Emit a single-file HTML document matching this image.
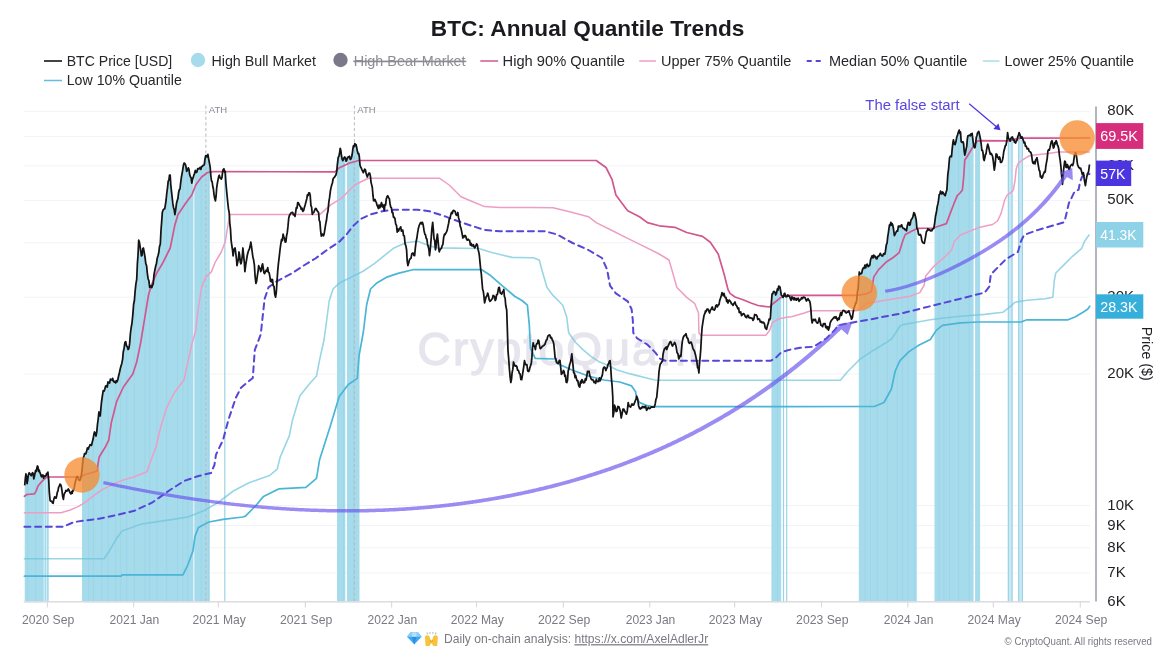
<!DOCTYPE html>
<html lang="en"><head><meta charset="utf-8"><title>BTC: Annual Quantile Trends</title>
<style>html,body{margin:0;padding:0;background:#fff;overflow:hidden}svg{display:block}</style></head>
<body>
<svg width="1170" height="661" viewBox="0 0 1170 661" font-family="'Liberation Sans', Arial, sans-serif">
<defs><filter id="gs" filterUnits="userSpaceOnUse" x="0" y="0" width="1170" height="661" color-interpolation-filters="sRGB"><feOffset dx="0" dy="0"/></filter></defs>
<rect width="1170" height="661" fill="#fff"/>
<g filter="url(#gs)">
<g stroke="#f3f3f5" stroke-width="1">
<line x1="23.7" x2="1090.0" y1="111.3" y2="111.3"/>
<line x1="23.7" x2="1090.0" y1="136.6" y2="136.6"/>
<line x1="23.7" x2="1090.0" y1="165.8" y2="165.8"/>
<line x1="23.7" x2="1090.0" y1="200.4" y2="200.4"/>
<line x1="23.7" x2="1090.0" y1="242.7" y2="242.7"/>
<line x1="23.7" x2="1090.0" y1="297.2" y2="297.2"/>
<line x1="23.7" x2="1090.0" y1="374.1" y2="374.1"/>
<line x1="23.7" x2="1090.0" y1="505.5" y2="505.5"/>
<line x1="23.7" x2="1090.0" y1="525.5" y2="525.5"/>
<line x1="23.7" x2="1090.0" y1="547.8" y2="547.8"/>
<line x1="23.7" x2="1090.0" y1="573.1" y2="573.1"/>
</g>
<text x="417.5" y="364.5" font-size="46" fill="#e6e5ee" stroke="#e6e5ee" stroke-width="1.3" textLength="283" lengthAdjust="spacing">CryptoQuant</text>
<g fill="#a6dbeb">
<polygon points="24.7,602.3 24.7,485.3 25.3,478.8 25.9,473.9 26.5,477 27.1,483.6 27.7,480.1 28.3,475.1 29.2,472.7 30.1,473.9 30.7,475 31.3,475.7 32,473.6 32.6,472.7 33.2,473.7 33.8,478.8 34.4,476.1 35,473.3 35.6,470.4 36.2,471.5 36.8,468.5 37.4,466 38,466.8 38.6,471.5 39.2,470 39.8,472.1 40.4,473.6 41,475.7 41.6,476.8 42.2,475.1 42.9,475 43.5,478.1 43.8,477.3 43.8,602.3"/>
<polygon points="44.4,602.3 44.4,476 45.3,476.3 46,475.4 46.5,474 46.5,602.3"/>
<polygon points="47,602.3 47,473.9 47.3,474.6 47.9,472.1 48.7,480 48.7,480.7 48.7,602.3"/>
<polygon points="82,602.3 82,469.9 82.6,464.2 83.2,458.2 84,455.7 84.6,453.6 85.2,453.9 85.8,453.8 86.4,452.1 87.4,447.9 88.3,449.1 88.9,447.2 89.5,446.1 90.1,444.7 90.7,444.8 91.5,445.4 92.5,441.2 93.2,438.6 93.8,434.8 94.5,432 95.2,433.1 96,436 96.8,431.5 97.5,424 98.2,419 98.9,412 99.6,412.8 100.2,416 100.8,409.4 101.5,402 102.3,396.5 103.2,390.7 104,391.2 104.8,389.3 105.6,386 106.4,385.7 107.2,387 108,382 108.8,382.4 109.6,383 110.4,379.2 111.1,379.8 111.9,380 112.6,378.3 113.4,381.3 114.1,382 114.8,381.4 115.6,382.9 116.3,380.7 117,381.8 117.8,379.7 118.6,376 119.4,372.8 120.2,369 121,366.1 121.8,363.4 122.6,359.3 123.3,351.7 124.1,348.2 124.9,342.5 125.7,341.6 126.5,345.8 127.3,346.7 128.1,349.5 128.9,348.4 129.6,343.9 130.4,333.5 131.2,327.5 132,322.8 132.8,314.9 133.6,304.5 134.4,300.5 135.1,291.3 135.9,283.9 136.7,279.5 137.4,263.2 138,255.2 138.7,240.2 139.4,242.1 140.1,246.7 140.8,251.4 141.4,255.9 142.1,255.1 142.8,248.6 143.4,248 144.2,252.2 145,257.2 145.8,263.5 146.6,265.7 147.3,273 148.1,278.7 148.9,280.7 149.7,287.4 150.4,286.5 151.1,285.8 151.8,287.6 152.5,285.4 153.2,283.8 154,274.7 154.8,270.5 155.6,266.5 156.4,263.8 157.2,258.3 158,255.8 158.8,252.5 159.5,246.7 160.3,244.1 161,230.3 161.6,222.6 162.3,212.6 163.1,210 163.9,209 164.7,208.9 165.4,204.8 166.1,200 166.8,193 167.5,187.8 168.2,181.1 168.9,180 169.5,175.1 170.2,175.2 170.8,184.8 171.5,191.3 172.1,196.9 172.8,203.4 173.5,207.4 174.2,209.6 174.9,214.6 175.7,209.5 176.5,203.3 177.2,200.8 177.9,198.6 178.6,192.7 179.3,189.7 180,189 180.7,182.4 181.4,177.2 182.1,173.3 182.8,169.3 183.4,165.3 184.1,163.1 184.7,163.4 185.4,164.4 186,166.8 186.7,171.3 187.5,170.1 188.3,167.9 189,169.3 189.7,174.8 190.4,176.8 191.1,177.8 191.8,183.1 192.5,179.4 193.2,177.4 193.4,176.7 193.4,602.3"/>
<polygon points="194.3,602.3 194.3,173.9 194.6,173.3 195.3,170.4 196.1,172.5 196.9,172 197.7,168.6 198.5,168.6 199.3,168.9 200.1,167.4 200.9,169.3 201.5,166.6 202.2,166.7 202.9,165.3 203.6,165.4 204.3,164.6 205,158.8 205.7,155.7 206.4,155.6 207.1,156.9 207.9,154.4 208.7,159.1 209.5,163.4 209.8,165.2 209.8,602.3"/>
<polygon points="337,602.3 337,168.5 337.4,164.4 338.2,157.4 338.9,156.2 339.5,153.5 340.2,148.3 340.9,150.8 341.5,156 342.2,159.3 342.8,160.6 343.5,159.5 344.1,157.4 344.8,157 345.3,158 345.3,602.3"/>
<polygon points="346.9,602.3 346.9,159.6 347.5,157.4 348.2,157.2 348.9,157.4 349.5,156.2 350.2,159.4 350.8,159.3 351.5,157.5 352.1,154.8 352.8,149.5 353.4,145.9 354.1,146.6 354.8,143.6 355.4,145.6 356.1,144.6 356.7,147.5 357.4,151.3 358,153.7 358.7,153.4 359.3,156.5 359.5,158.6 359.5,602.3"/>
<polygon points="771.4,602.3 771.4,302.5 772.1,293.8 772.8,293.8 773.4,291.8 774,291.4 774.9,292.1 775.7,295 776.6,292.8 777.4,289 778.1,290 778.7,286.1 779.4,286.5 780,287.1 780.7,291.4 781.2,294.4 781.2,602.3"/>
<polygon points="858.8,602.3 858.8,278.3 859.3,272 860.1,273.8 860.9,274 861.7,273.2 862.5,269.5 863.3,267.9 864.1,268.4 864.9,265.2 865.7,267.8 866.5,264.7 867.3,264.1 868.2,266.6 869,266 869.8,265.1 870.6,259.5 871.4,257.5 872.2,255.7 873,257.9 873.8,255.1 874.6,256.8 875.4,256.4 876.2,258.7 877,258.8 877.8,256.3 878.6,256.3 879.5,254.9 880.3,253.3 881.1,255.1 881.9,255.8 882.7,256 883.5,253.8 884.1,253.6 884.8,254.2 885.4,251.4 886.3,244.9 887.1,243 887.7,236.8 888.3,233.3 888.9,228.9 889.5,224.8 890.1,225.6 890.8,222.4 891.4,225.2 892,223.5 892.7,224.8 893.5,229 894.4,235.7 895.2,233.8 896,232.4 896.8,230.8 897.6,231.2 898.4,226.2 899.2,226 900,226.9 900.8,226.2 901.6,224.8 902.5,227.5 903.3,228.4 904.1,228.4 904.9,229.7 905.7,229.3 906.5,230.8 907.3,225.7 908.2,222.4 908.8,222.6 909.5,225.2 910.1,224.8 910.8,220.8 911.4,219.3 912.1,218.7 912.9,216.9 913.8,212.7 914.6,213.4 915.4,216.3 916.2,220.1 916.8,227.3 916.8,602.3"/>
<polygon points="934.5,602.3 934.5,224.3 934.7,223 935.5,216.3 936.4,212.3 937.2,206.6 937.9,203.9 938.5,200.4 939.2,194.5 939.8,194.4 940.5,191.2 941.1,192.1 941.9,194 942.7,192 943.5,193.3 944.4,194.8 945.2,195.7 946.1,192.1 946.9,189.7 947.8,174.9 948.7,167.8 949.5,158 950.2,156.3 950.8,156.1 951.5,156.7 952.1,149.7 952.8,143.5 953.4,139.8 954.3,144 955.1,144.6 955.9,141.8 956.7,137.3 957.5,135 958.4,132.1 959.2,130.1 959.9,133.3 960.5,132.1 961.2,141.8 961.8,142.1 962.4,142.4 963,141.8 963.6,143.6 964.2,150.9 964.8,155.1 965.4,152.8 966.1,149 966.7,146.6 967.3,139.4 967.9,135.8 968.5,135.7 969.1,135.3 969.7,135.1 970.3,135.9 970.9,133.9 971.5,135.1 972.1,133.3 972.7,138.2 973.6,145.4 973.6,145.5 973.6,602.3"/>
<polygon points="975.1,602.3 975.1,147.3 975.1,147.3 975.7,143 976.3,137.2 976.9,135.7 977.5,133 978.2,132.1 978.8,131.4 979.4,133.9 980.1,137.1 980.1,602.3"/>
</g>
<g fill="#cbe9f3">
<polygon points="1007.8,602.3 1007.8,134.2 1008.4,138.2 1009.4,139.4 1010.2,141.2 1010.8,138.8 1011.4,137.5 1012.4,136.9 1012.6,137.6 1012.6,602.3"/>
<polygon points="1018.1,602.3 1018.1,135.8 1018.5,135 1019.1,132.7 1019.9,134.5 1020.5,137 1021.1,138.2 1021.7,136.6 1022.3,137.5 1023,139.5 1023,602.3"/>
</g>
<g stroke="#93d0e5" stroke-width="0.9" opacity="0.55">
<line x1="27.8" x2="27.8" y1="480.7" y2="602.3"/>
<line x1="35.6" x2="35.6" y1="471.4" y2="602.3"/>
<line x1="88.6" x2="88.6" y1="448.9" y2="602.3"/>
<line x1="93.3" x2="93.3" y1="439" y2="602.3"/>
<line x1="101.6" x2="101.6" y1="402.2" y2="602.3"/>
<line x1="108.2" x2="108.2" y1="383.1" y2="602.3"/>
<line x1="115.7" x2="115.7" y1="383.4" y2="602.3"/>
<line x1="120.8" x2="120.8" y1="367.9" y2="602.3"/>
<line x1="126.7" x2="126.7" y1="347.1" y2="602.3"/>
<line x1="134.4" x2="134.4" y1="301" y2="602.3"/>
<line x1="144.9" x2="144.9" y1="257.5" y2="602.3"/>
<line x1="149.6" x2="149.6" y1="287.8" y2="602.3"/>
<line x1="157.1" x2="157.1" y1="260" y2="602.3"/>
<line x1="166.7" x2="166.7" y1="195.2" y2="602.3"/>
<line x1="177.5" x2="177.5" y1="201.1" y2="602.3"/>
<line x1="182.9" x2="182.9" y1="169.7" y2="602.3"/>
<line x1="187.7" x2="187.7" y1="170.3" y2="602.3"/>
<line x1="201.2" x2="201.2" y1="168.9" y2="602.3"/>
<line x1="208.6" x2="208.6" y1="159.2" y2="602.3"/>
<line x1="343.7" x2="343.7" y1="159.8" y2="602.3"/>
<line x1="353.5" x2="353.5" y1="147" y2="602.3"/>
<line x1="777.7" x2="777.7" y1="290.4" y2="602.3"/>
<line x1="864.9" x2="864.9" y1="266.3" y2="602.3"/>
<line x1="870.5" x2="870.5" y1="261" y2="602.3"/>
<line x1="877.3" x2="877.3" y1="258.9" y2="602.3"/>
<line x1="887.3" x2="887.3" y1="242.6" y2="602.3"/>
<line x1="897.1" x2="897.1" y1="232" y2="602.3"/>
<line x1="902.3" x2="902.3" y1="228.1" y2="602.3"/>
<line x1="907.9" x2="907.9" y1="224.6" y2="602.3"/>
<line x1="914.7" x2="914.7" y1="214.6" y2="602.3"/>
<line x1="939" x2="939" y1="196.8" y2="602.3"/>
<line x1="943.9" x2="943.9" y1="195" y2="602.3"/>
<line x1="949.6" x2="949.6" y1="158.7" y2="602.3"/>
<line x1="958.7" x2="958.7" y1="132.3" y2="602.3"/>
<line x1="969" x2="969" y1="136.4" y2="602.3"/>
</g>
<g stroke="#9bd4e7" stroke-width="1.2">
<line x1="224.8" x2="224.8" y1="171.8" y2="602.3"/>
<line x1="783.5" x2="783.5" y1="296.6" y2="602.3"/>
<line x1="786.7" x2="786.7" y1="296.5" y2="602.3"/>
<line x1="1008.4" x2="1008.4" y1="138.1" y2="602.3"/>
<line x1="1012" x2="1012" y1="137.2" y2="602.3"/>
<line x1="1018.7" x2="1018.7" y1="134.1" y2="602.3"/>
<line x1="1022.4" x2="1022.4" y1="137.7" y2="602.3"/>
</g>
<line x1="205.9" x2="205.9" y1="105.5" y2="602.3" stroke="#b9b9c0" stroke-width="1" stroke-dasharray="3.2 2.4"/>
<text x="208.8" y="113.3" font-size="9" fill="#8a8a92" textLength="18.3" lengthAdjust="spacingAndGlyphs">ATH</text>
<line x1="354.4" x2="354.4" y1="105.5" y2="602.3" stroke="#b9b9c0" stroke-width="1" stroke-dasharray="3.2 2.4"/>
<text x="357.29999999999995" y="113.3" font-size="9" fill="#8a8a92" textLength="18.3" lengthAdjust="spacingAndGlyphs">ATH</text>
<polyline points="24.4,576.2 121,576.2 122,574.8 183,574.8 187.8,565 193,550.7 195,536.4 198.4,527.5 209,522 223,519.4 242.7,517 245.4,516.1 256,505.5 263.5,496.4 278.7,488.9 305.9,487.3 316.5,478.3 319.5,460.1 330.1,426.8 339.2,396.6 348.3,384.5 357.3,378.4 359,356 361,345 363.5,331 366.6,305 370.5,289 376.4,283.3 386.2,277.4 398,273.4 413.8,269.5 481.8,269.7 490.9,275.8 503,286.4 515,296.5 522,300.5 527.4,305.2 529.3,325 530.5,348.5 535.2,358.4 555,359 558.9,364.3 572.6,370.2 588.4,376 604,380 619.8,382 631.6,385.9 635.6,391.8 636.4,397.5 639.7,402.6 647.5,405.7 652.6,406.7 874.4,406.5 884,402.5 891.4,389 895.2,371 900,360.7 909,351.6 918.2,345.6 930.3,339.5 936.3,330.4 942.4,325.3 960.5,322.9 978.7,322 1021,322 1027,319.8 1068,319.8 1075.5,316.8 1083,312.3 1087.6,309.3 1089.7,306.2" fill="none" stroke="#4ab5d6" stroke-width="1.7" stroke-linejoin="round" stroke-linecap="round" />
<polyline points="24.4,558.8 104,558.8 109.5,550.7 116.7,538.2 122,531 141.5,524 166.4,520.4 187.8,517 203,511 218.2,502.5 233.3,491 248.4,483 269.6,475.5 277.2,469.2 280.2,457.1 289.3,435.9 292.3,420.8 299.8,396 308.9,384.5 316.5,376 319.5,360.3 324,340 325.8,327 329.2,301 333,289 339,283.3 350.8,277.4 362.6,271.5 374.4,263.6 384.3,255.7 394,247.9 405.9,242.8 417.7,241.2 429.5,245.9 437.4,247.9 478.8,248.5 490.9,252.3 503,255.3 512,257.4 533.3,257.8 539.2,260 543,273.8 547,287.5 553,295.4 562.8,305.2 566.7,317 568.7,332.8 575.4,342.2 583.2,349.9 590.9,356.3 598.6,361.4 607.6,365.3 616.6,369.7 626.9,373 637.2,375.6 647.5,378.2 655.2,380 660,380.2 840.4,380.2 847.7,371.5 859.8,359.4 874.4,349.7 886.5,342.4 891.4,339 895.6,333 900,326 902.9,324.6 915,322.5 930.3,319.8 944,318 960.5,316.2 984.7,314.4 1002.9,312.3 1008.9,307.7 1015,302.3 1027,300.2 1045.2,298.7 1052.8,297.2 1054.3,280.5 1055.8,273 1063.4,265.4 1072.5,256.3 1081.5,248.7 1084.6,241.2 1089,235" fill="none" stroke="#6cc4dc" stroke-width="1.6" stroke-linejoin="round" stroke-linecap="round" stroke-opacity="0.7"/>
<polyline points="24.4,526.8 63.3,526.8 74,522 99,518.7 116.7,515 134.4,510.8 152,502.7 170,490 184,481 198.4,476 211,473 214.4,465 216,454.7 223,440 228.7,419 235.8,397.8 241,387.7 252.8,377.9 254.8,350 260.7,334.6 264.6,299 268.5,287.4 276.4,281.5 291.8,273.4 303.6,265.6 315.4,258.5 327.2,249.8 339,242 346.9,234 352.8,226.2 360.7,219 370.5,214.4 382.3,211.3 394,209.7 417.7,209.7 429.5,211.3 445.2,216.4 461,222.3 472.8,226.2 484.6,230 500,231.3 545,231.3 556.9,234.4 572.6,243 588.4,250 602,258 607.2,269.8 610,285.6 615.9,293.4 627.7,301.3 631.6,309.2 632.8,320 633.3,333 637.2,338.3 647.5,344.7 655.2,352.4 660.3,358.9 665.5,360.7 771,360.7 776,357.6 781.2,352.4 789,349.9 800,347.8 813.8,346.7 826.5,338.3 835,329.8 838,325.5 853,322.4 868.9,319.7 884.7,316.5 900,313.8 930.3,306.2 960.5,298.7 984.7,292.6 989.3,286.6 990.8,274.5 996.8,268.4 1005.9,259.3 1018,251.8 1021,241.2 1024,235 1036,230.6 1051.3,226 1063.4,222.5 1064.6,221 1066.5,213.6 1068.9,203 1071,199 1074.5,191.7 1078.6,189.7 1080,182.2 1082,176.8 1085.4,174.7 1089.5,174" fill="none" stroke="#5646d8" stroke-width="2.0" stroke-linejoin="round" stroke-linecap="round" stroke-dasharray="6 4.7" stroke-linecap="butt"/>
<polyline points="24.4,512.7 61,512.7 69.5,510.2 78,506.6 85.2,502.4 93.7,495.7 102.2,489.6 111.9,484.8 121.6,480.6 134.4,476.7 147,471.7 150.4,461.8 155.8,447.5 161,426 166.4,408.4 173.5,394 178,387.7 184,380 187.9,362 191.8,344.4 195.7,330.7 198.5,307 201.6,287.4 205.6,277.5 211.5,271.6 215.4,261.8 221.3,252 225.2,242 228.4,222.5 230,214.6 320,214.4 331,204.6 341,198.7 348.9,190.8 354.8,185 362.6,181 368.5,178.2 439.3,178.2 449.2,185 455,190.8 461,196.7 472.8,201.8 484.6,206.6 500,207.5 553,207.7 568.7,211.6 588.4,216.7 596.2,222.6 612,230.5 627.7,238.4 643.4,246.2 659.2,254 669,260 673,273.8 676.9,287.5 686.7,297.4 694.6,303.3 698.5,313 698.9,333 701,335.2 765.8,335.2 769.6,330.6 772.2,322.9 778.6,319 786.4,317.2 791.5,316.8 803.6,313.2 810.8,310.8 856.9,310.8 866.5,303.5 881,301 895.6,298.6 910,296.2 919.8,292.6 924.2,285 925.7,276 933.3,266.9 945.4,256.3 951.4,250.3 954.5,241.2 960.5,235 978.7,227.6 992.6,224.5 997.5,221 1001,213.6 1004.7,200 1007.2,195 1010.8,192.6 1013.3,190.2 1015,180.5 1016.3,168.4 1018.1,163.6 1021.7,160.5 1025.4,158.1 1029,156 1032.6,155.3 1048.3,153.4 1058,152 1089.5,152" fill="none" stroke="#ee9ec4" stroke-width="1.5" stroke-linejoin="round" stroke-linecap="round" />
<polyline points="24.4,496.3 27,494.5 34.4,493.9 36.2,490.9 38,486 41,482.4 44,479.4 47,477 80.4,477 85.2,474.5 92.5,472.5 97.3,470.9 98,464 99.2,457 102.2,452 105.2,447.3 107.6,442.4 108.8,440 111.3,422.7 116.7,401.3 123.4,387 132.8,374 136.7,362 140.7,342.5 144.6,318.9 148.5,295 151.3,285.4 156.4,273.6 162.3,263.8 170.2,248 175,224.4 178,214.6 186,202.8 191.8,195 195.7,185 201.6,177 207.5,172.5 213.4,171.6 335,171.9 339,168 348.9,163.3 358.7,160.5 596.2,160.5 606,167.5 612,179.3 615.9,195 621.8,203 627.7,210.8 639.5,216.7 647.4,222.6 659.2,225.8 674.9,227.3 686.7,232.5 702.5,236.4 710.3,242.3 718.2,254 724,273.8 728,289.5 730,293.4 735,297 743,299.8 751,303 758,305.5 764,306.3 769.7,307 773.3,303.5 779.4,298.6 784.2,295.7 790,295.3 856.9,295.3 866.5,293.8 871.4,291.4 873.8,276.9 878.6,269.6 885.9,262.3 893.2,257.5 899.2,252.6 902.9,240.5 905.3,234.5 912.5,230.8 917.4,228.4 933,228 939.2,226 946.4,223.6 950,213.9 953.7,204.2 957.3,195.7 960,193 962.4,190 963.6,178 964.8,160 967.3,156.3 970.9,150.3 974.5,144.2 977.5,141.2 980,140.6 1008.4,140.8 1013.3,139.4 1020.5,138.2 1089.5,138" fill="none" stroke="#d2568f" stroke-width="1.7" stroke-linejoin="round" stroke-linecap="round" />
<polyline points="24.7,485.4 25.3,478.8 25.9,473.9 26.5,477 27.1,483.6 27.7,480.1 28.3,475.1 29.2,472.7 30.1,473.9 30.7,475 31.3,475.7 32,473.6 32.6,472.7 33.2,473.7 33.8,478.8 34.4,476.1 35,473.3 35.6,470.4 36.2,471.5 36.8,468.5 37.4,466 38,466.8 38.6,471.5 39.2,470 39.8,472.1 40.4,473.6 41,475.7 41.6,476.8 42.2,475.1 42.9,475 43.5,478.1 44.4,476 45.3,476.3 46,475.4 46.7,473.3 47.3,474.6 47.9,472.1 48.7,480 49.3,492.1 50.1,500.5 50.7,501.2 51.3,501.2 51.9,501.6 52.5,503 53.1,503.3 53.8,499.3 54.7,496.8 55.6,498.1 56.2,498.2 56.8,495.1 57.4,492 58,490.9 58.6,487.1 59.2,486.6 60,484.1 60.8,484.8 61.4,486.9 62,490.9 62.7,496.6 63.4,499.3 64,494.8 64.6,493.3 65.3,492.1 65.9,490.3 66.6,491.1 67.3,490.9 68.3,489 69,490 69.7,492.1 70.3,493.2 70.9,493.9 71.6,491.7 72.2,493.3 72.8,490.1 73.4,490.9 74.3,487.2 75.2,482.4 76.2,478.8 77,476.3 78,477.5 78.9,480 79.8,480.6 80.6,478.8 81.4,475.1 82,470.3 82.6,464.2 83.2,458.2 84,455.7 84.6,453.6 85.2,453.9 85.8,453.8 86.4,452.1 87.4,447.9 88.3,449.1 88.9,447.2 89.5,446.1 90.1,444.7 90.7,444.8 91.5,445.4 92.5,441.2 93.2,438.6 93.8,434.8 94.5,432 95.2,433.1 96,436 96.8,431.5 97.5,424 98.2,419 98.9,412 99.6,412.8 100.2,416 100.8,409.4 101.5,402 102.3,396.5 103.2,390.7 104,391.2 104.8,389.3 105.6,386 106.4,385.7 107.2,387 108,382 108.8,382.4 109.6,383 110.4,379.2 111.1,379.8 111.9,380 112.6,378.3 113.4,381.3 114.1,382 114.8,381.4 115.6,382.9 116.3,380.7 117,381.8 117.8,379.7 118.6,376 119.4,372.8 120.2,369 121,366.1 121.8,363.4 122.6,359.3 123.3,351.7 124.1,348.2 124.9,342.5 125.7,341.6 126.5,345.8 127.3,346.7 128.1,349.5 128.9,348.4 129.6,343.9 130.4,333.5 131.2,327.5 132,322.8 132.8,314.9 133.6,304.5 134.4,300.5 135.1,291.3 135.9,283.9 136.7,279.5 137.4,263.2 138,255.2 138.7,240.2 139.4,242.1 140.1,246.7 140.8,251.4 141.4,255.9 142.1,255.1 142.8,248.6 143.4,248 144.2,252.2 145,257.2 145.8,263.5 146.6,265.7 147.3,273 148.1,278.7 148.9,280.7 149.7,287.4 150.4,286.5 151.1,285.8 151.8,287.6 152.5,285.4 153.2,283.8 154,274.7 154.8,270.5 155.6,266.5 156.4,263.8 157.2,258.3 158,255.8 158.8,252.5 159.5,246.7 160.3,244.1 161,230.3 161.6,222.6 162.3,212.6 163.1,210 163.9,209 164.7,208.9 165.4,204.8 166.1,200 166.8,193 167.5,187.8 168.2,181.1 168.9,180 169.5,175.1 170.2,175.2 170.8,184.8 171.5,191.3 172.1,196.9 172.8,203.4 173.5,207.4 174.2,209.6 174.9,214.6 175.7,209.5 176.5,203.3 177.2,200.8 177.9,198.6 178.6,192.7 179.3,189.7 180,189 180.7,182.4 181.4,177.2 182.1,173.3 182.8,169.3 183.4,165.3 184.1,163.1 184.7,163.4 185.4,164.4 186,166.8 186.7,171.3 187.5,170.1 188.3,167.9 189,169.3 189.7,174.8 190.4,176.8 191.1,177.8 191.8,183.1 192.5,179.4 193.2,177.4 193.9,175.1 194.6,173.3 195.3,170.4 196.1,172.5 196.9,172 197.7,168.6 198.5,168.6 199.3,168.9 200.1,167.4 200.9,169.3 201.5,166.6 202.2,166.7 202.9,165.3 203.6,165.4 204.3,164.6 205,158.8 205.7,155.7 206.4,155.6 207.1,156.9 207.9,154.4 208.7,159.1 209.5,163.4 210.2,167.4 210.8,175.5 211.5,181.1 212.1,181.5 212.8,186.5 213.4,189 214.1,195.4 214.8,198.8 215.4,200.8 216.1,196 216.7,187.7 217.4,183.1 218,179.8 218.7,176.3 219.3,175.2 220,177.8 220.7,178 221.3,179.2 222,177.3 222.6,171.8 223.3,169.3 223.9,168.8 224.6,172 225.2,171.3 225.9,182.9 226.6,190.6 227.2,196.9 227.9,203.8 228.5,209.1 229.2,212.6 229.8,223.3 230.5,229.2 231.1,240.2 231.8,245.5 232.5,249.9 233.1,255.9 233.8,251 234.4,248.4 235.1,248 235.7,252.7 236.4,258.5 237,265.7 237.7,262.2 238.4,259 239,252 239.7,255.6 240.3,262.1 241,263.8 241.6,261.2 242.3,255.8 242.9,248 243.6,255.1 244.3,262.1 244.9,271.6 245.7,265.1 246.5,260.1 247.3,255.2 248.1,252 248.8,250.1 249.4,249 250.1,246.3 250.8,242.1 251.5,246.4 252.2,251.8 252.9,257.1 253.6,259.8 254.4,265.2 255.1,276.5 255.9,283.4 256.6,281.3 257.3,276.2 258,271.6 258.7,265.7 259.3,267.6 260,268.2 260.7,271.6 261.3,270.4 262,265.6 262.6,263.8 263.3,268.5 263.9,272.7 264.6,273.6 265.4,271.6 266.2,270.2 266.9,271.3 267.7,267.7 268.4,272.3 269.1,272.8 269.8,276.1 270.5,281.5 271.1,279.3 271.8,281.9 272.5,279.5 273.2,285.7 274,286.4 274.8,294.6 275.6,297.2 276.3,292.2 277,281.6 277.7,271.1 278.4,263.8 279.2,257.1 280,249.8 280.8,243.9 281.6,239.3 282.4,240.6 283.1,234.1 283.8,236.8 284.5,238.2 285.2,242.1 285.9,242 286.6,235.7 287.3,232.4 288,226.2 288.7,218.4 289.4,215.5 290.2,214.2 291,213 291.8,212.5 292.6,212.3 293.4,214.8 294.2,214.3 295,216.4 295.6,212.5 296.3,207.6 297,208.2 297.7,202.6 298.4,202.9 299.1,204.4 299.8,205.9 300.5,206.6 301.2,209.4 302,208.2 302.8,211.4 303.6,210.5 304.4,207.5 305.2,204.8 306,201.8 306.8,198.7 307.4,195 308.1,195.5 308.8,192.8 309.5,192.8 310.2,195.3 310.9,205.4 311.6,207.1 312.3,214.4 313,212.8 313.8,212.5 314.6,210.3 315.4,208.5 316.2,208.7 317,210.6 317.8,211.7 318.6,212.5 319.2,220.1 319.9,221.9 320.6,230.5 321.3,236.1 322,234.5 322.7,234.1 323.4,235.8 324.1,234.1 324.9,229.2 325.6,224.6 326.4,220.8 327.2,214.4 328,211 328.8,202.3 329.6,197.4 330.4,190.8 331,187.9 331.7,185 332.4,183 333.1,179 333.8,177.8 334.5,177.2 335.2,176 335.9,175.1 336.7,171.7 337.4,164.4 338.2,157.4 338.9,156.2 339.5,153.5 340.2,148.3 340.9,150.8 341.5,156 342.2,159.3 342.8,160.6 343.5,159.5 344.1,157.4 344.8,157 345.4,158.3 346.1,161.3 346.8,160.1 347.5,157.4 348.2,157.2 348.9,157.4 349.5,156.2 350.2,159.4 350.8,159.3 351.5,157.5 352.1,154.8 352.8,149.5 353.4,145.9 354.1,146.6 354.8,143.6 355.4,145.6 356.1,144.6 356.7,147.5 357.4,151.3 358,153.7 358.7,153.4 359.3,156.5 360,165 360.7,167.2 361.3,168.1 362,169.8 362.6,171.1 363.3,172.6 363.9,171.3 364.6,169.2 365.3,169.5 366,172.8 366.7,175.2 367.3,177 368.1,175 368.9,173.1 369.7,173.1 370.4,176.1 371,182.1 371.7,184.9 372.3,187.5 373,195.7 373.6,200.7 374.3,200.9 375,199.5 375.7,201.4 376.4,202.6 377,205.2 377.7,206.6 378.4,208.5 379.1,205 379.9,207.8 380.7,205.4 381.5,202.6 382.2,206.9 382.9,204.6 383.6,207.4 384.3,210.5 384.9,204.6 385.6,205.1 386.3,198.9 387,196.7 387.8,195.8 388.6,197.7 389.4,198.7 390.1,204.3 390.8,207.3 391.4,207.7 392.1,212.5 392.8,212.3 393.5,217.4 394.2,217.2 394.9,218.4 395.7,224 396.5,225.4 397.2,232.1 397.9,229.1 398.6,231 399.3,228.8 400,228.2 400.7,226.8 401.4,231.1 402.1,230.3 402.8,230.2 403.5,235.7 404.3,235.8 405.1,243.9 405.9,245.9 406.6,250 407.2,261.1 407.9,265.6 408.7,263 409.4,260 410.2,258.8 411,258.3 411.8,253.8 412.5,253.2 413.2,253.1 413.9,255.4 414.6,255.7 415.3,248.4 416.1,241.7 416.9,238 417.6,232.8 418.3,228.8 419,226.1 419.7,224.3 420.4,222.9 421,222.4 421.7,223.9 422.4,222.3 423.2,225.1 424,230.2 424.8,234.1 425.5,234.9 426.2,238.3 426.9,239.1 427.5,243.9 428.2,246.6 428.9,249.3 429.5,255.7 430.3,249 431.1,239.4 431.9,228.5 432.7,222.3 433.3,229 434,238.8 434.7,240.4 435.4,249.8 436.1,246.3 436.7,239 437.4,234.1 438,240 438.7,247.8 439.3,251.8 440,249.8 440.7,248.9 441.4,248.3 442.1,245.9 442.9,244.4 443.7,237.2 444.5,234.1 445.1,234.6 445.8,233.1 446.5,231.8 447.2,230.2 447.9,226.7 448.6,223.5 449.3,219 450,218.4 450.8,214.6 451.5,212.4 452.3,213.6 453.1,210.5 453.8,210.4 454.5,210.9 455.2,211.6 455.9,214.4 456.5,215.3 457.2,214.7 457.8,212.5 458.6,218 459.4,220.5 460.2,226.2 460.9,227.9 461.6,231.1 462.3,234.9 462.9,238 463.6,236 464.3,236.8 465,235.5 465.7,236.1 466.5,239.1 467.3,240.2 468.1,239.2 468.8,240 469.6,240.3 470.4,245.1 471.2,243.5 472,245.9 472.7,245.8 473.4,244.7 474.1,246.9 474.8,247.9 475.4,246.4 476.1,245.3 476.7,243.9 477.4,245.1 478,249.2 478.7,251.8 479.3,254.9 480,262.3 480.7,269.5 481.3,273.7 482,282 482.6,289.2 483.3,291.3 483.9,295.8 484.6,302.9 485.4,299.5 486.2,296.7 486.9,296 487.7,293.1 488.5,296 489.2,299.8 490,301.3 490.8,300.6 491.6,299.4 492.4,298.7 493.1,295.4 493.8,295.9 494.5,296.6 495.2,300.5 495.9,299.3 496.6,294.6 497.3,294.6 498,291.2 498.7,287.5 499.4,287.4 500.2,293 501,293.4 501.7,294.2 502.4,292 503.1,291.5 503.8,289.5 504.4,296.5 505.1,298 505.7,305.2 506.7,310 507.4,330.7 508,351 508.7,358.9 509.4,369 510.1,376.7 510.8,382.5 511.5,379.3 512.1,372.7 512.8,369.4 513.5,362 514.3,364.5 515.2,366.2 516,365.6 516.8,366.3 517.6,370.2 518.4,370.3 519.3,373.3 520.1,374 520.9,379.5 521.7,379.7 522.4,375.3 523.1,370.9 523.8,366.1 524.5,360.6 525.3,363.7 526.1,364.9 526.9,364.6 527.7,370.9 528.6,371.5 529.2,370.7 529.9,367.5 530.6,365.6 531.3,363.3 531.9,357.4 532.6,347.1 533.2,342.8 533.9,346.2 534.7,346.2 535.4,349.7 536.1,345.2 536.8,343.7 537.4,343.6 538.1,340.1 538.8,340.7 539.5,345.4 540.2,348.6 540.9,348.3 541.5,347.6 542.2,346.4 542.9,346.1 543.6,345.6 544.3,345 545,344.1 545.7,342 546.3,340.1 547,339.8 547.8,336.2 548.5,335.5 549.2,335 549.9,335.2 550.7,337.9 551.5,337.4 552.4,340.2 553.2,341.5 553.8,344.2 554.4,350 555.1,357.9 555.8,358.6 556.5,362.3 557.3,363.3 558,363.5 558.6,362.7 559.3,360.4 560,360.6 560.7,367.5 561.4,374.3 562.1,373.4 562.7,372.8 563.4,370.5 564.1,371.5 564.8,376.3 565.5,375.5 566.2,382.2 566.8,382.5 567.5,380.5 568.2,370.9 568.9,368.9 569.6,364.7 570.3,362.7 571,359.8 571.8,353.8 572.4,359.9 573,365.2 573.7,372.9 574.4,372.9 575.1,377.7 575.7,375.7 576.4,378.4 577.1,380.8 577.8,380.7 578.5,384.7 579.2,386.6 579.8,387 580.5,381.4 581.2,383 581.9,379.7 582.6,380.5 583.3,382.8 583.9,382.7 584.6,382.5 585.3,378.9 586.1,380.1 586.8,375.8 587.5,371.3 588.2,371.5 589,371.2 589.8,375.6 590.6,377.5 591.5,379.7 592.1,379.6 592.8,379.5 593.5,381.1 594.2,382.5 594.9,381.3 595.6,383.3 596.3,379.3 596.9,381.1 597.8,381.7 598.6,381.5 599.4,377.8 600.2,380.8 601,378.4 601.7,376.7 602.4,374.9 603.1,369.1 603.8,367.4 604.5,367.2 605.1,367.7 605.8,370.6 606.5,368.8 607.2,367.6 607.9,364.8 608.6,363.5 609.4,361.2 610.1,360.6 610.7,367 611.4,378.4 612.1,385.7 612.8,397.5 613,416.8 613.8,412.7 614.5,405.2 615.3,407.4 616.1,411.6 617,411 617.9,406.5 618.8,406.6 619.7,409 620.5,412.4 621.2,418 622.1,413.6 623,409 623.9,409 624.8,411.6 625.6,412.3 626.4,414.2 627.3,410.7 628.2,402.6 629.1,406.3 630,406.5 630.7,407 631.3,405.3 632,403.9 632.9,405.2 633.7,404.9 634.6,402.6 635.3,400.7 636,399.4 636.7,396.2 637.6,398.5 638.5,405.2 639.4,408.2 640.3,409 640.9,408 641.6,408.4 642.3,406.5 643.2,407.5 644,406.4 644.9,407.7 645.7,406.2 646.6,410.4 647.5,409 648.3,407.3 649.2,408.6 650,408.5 650.9,407.4 651.7,406.8 652.6,407.2 653.5,407.2 654.3,407.1 655.2,403.9 655.9,399.5 656.7,397.5 657.7,387.2 658.4,380.3 659,371.7 659.7,366.9 660.3,364 661,363.4 661.7,361.8 662.4,361.4 663,354.6 663.7,351.2 664.6,348.4 665.5,348.6 666.2,346.9 666.8,349.5 667.5,347.3 668.4,345.4 669.3,343.4 670.2,341.6 671.1,342.2 671.8,344.8 672.5,346.1 673.2,344.7 673.9,344.1 674.6,342.3 675.2,343.4 676.1,346.4 677,352.4 677.9,353.7 678.8,358.9 679.5,357.3 680.2,355.4 680.9,356.3 681.7,347.2 682.4,340.9 683.3,337.2 684.2,335.7 685.1,335 686,333.7 686.9,337.8 687.8,338.3 688.6,342 689.4,343.4 690.3,342.4 691.2,342.2 692.1,345 693,348.6 693.8,350 694.5,351.2 695.4,354.4 696.3,358.9 697,362.6 697.6,367.9 698.3,368.4 698.9,373 699.5,363.4 700.2,356.3 700.8,348.7 701.5,335.7 702.1,327.3 702.8,322.9 703.4,319 704.1,315.1 704.8,313.7 705.5,311 706.2,311.6 707,309 707.9,309 708.7,310.6 709.6,313 710.3,310.3 711,309.5 711.6,308.2 712.3,307 713,309.5 713.6,309.5 714.3,310.1 715,309 715.8,305.8 716.6,304.9 717.4,306.9 718.2,305 719,304.6 719.8,300.1 720.5,298.2 721.3,295.4 722,292.7 722.6,293.9 723.3,295.8 724,293.4 724.7,296.2 725.3,297.7 726,297.4 726.7,301.5 727.3,300 728,303 728.7,300.6 729.3,300.2 730,301 730.8,302.1 731.5,303.8 732.3,304 733,305.4 733.6,304 734.3,303.1 735,302 735.8,305 736.5,305.4 737.3,307.4 738,308.9 738.6,307.9 739.3,312.6 740,312.6 740.7,311.9 741.5,315.6 742.2,314.9 743,313.9 743.7,313.6 744.5,314.7 745.2,316.4 745.9,317.2 746.7,317.6 747.4,315.3 748.2,315.3 748.9,317.4 749.7,317.9 750.4,317.7 751.3,318.1 752.1,318.2 753,320.3 753.8,319 754.7,314.5 755.5,315 756.3,314.9 757.1,316.4 757.8,319.5 758.6,318.9 759.4,319 760.3,322 761.1,321.5 762,322.9 762.8,322.1 763.7,322.5 764.5,324 765.2,327.9 765.9,328.5 766.6,329.3 767.5,325.2 768.4,322.9 769.1,319.2 769.7,319.8 770.4,318.3 771.2,305 772.1,293.8 772.8,293.8 773.4,291.8 774,291.4 774.9,292.1 775.7,295 776.6,292.8 777.4,289 778.1,290 778.7,286.1 779.4,286.5 780,287.1 780.7,291.4 781.3,295 782.2,295.9 783,297.4 783.6,296.4 784.2,293.8 784.9,293.3 785.5,296.7 786.2,296.2 787,296.6 787.8,295 788.7,296.2 789.5,296.1 790.3,298.6 791.1,300.3 791.9,297 792.7,297.4 793.5,299.6 794.3,297.9 795.1,299.9 795.9,298.3 796.7,300.2 797.5,298.6 798.3,298.2 799.1,301.4 800,299.9 800.8,299.4 801.6,297.7 802.4,298.6 803.2,297.1 804,297.5 804.8,297.4 805.6,299 806.4,301 807.2,299.9 808,298.7 808.8,300.2 809.6,301.1 810.2,303.3 810.8,308.3 811.5,318.1 812.1,322.9 812.9,320.5 813.7,319.3 814.5,320.4 815.3,319.3 816.1,321.6 816.9,322.9 817.7,323.1 818.5,321.4 819.3,318 820.1,321.5 820.9,325.2 821.7,325.3 822.6,326.7 823.4,323.7 824.2,324.1 825,323.5 825.8,327.6 826.6,326.5 827.2,328.8 827.9,326.8 828.5,330.1 829.4,327.3 830.2,322.9 831,321.1 831.8,319.9 832.6,319.2 833.4,318.1 834.3,317 835.1,318 835.9,316.6 836.7,318.7 837.5,320.4 838.3,318.1 839.1,319.3 839.9,315.6 840.7,312.7 841.5,315.3 842.3,312 843.1,310.3 843.9,310.5 844.7,310.8 845.6,312.5 846.4,312.9 847.2,312 848,312.1 848.8,310.8 849.6,313.2 850.2,315.1 850.9,316.6 851.5,319.2 852.4,317.6 853.2,312 854.1,307.5 854.9,305.9 855.6,302.8 856.2,303 856.9,298.6 857.5,291.5 858.1,289 858.7,280 859.3,272 860.1,273.8 860.9,274 861.7,273.2 862.5,269.5 863.3,267.9 864.1,268.4 864.9,265.2 865.7,267.8 866.5,264.7 867.3,264.1 868.2,266.6 869,266 869.8,265.1 870.6,259.5 871.4,257.5 872.2,255.7 873,257.9 873.8,255.1 874.6,256.8 875.4,256.4 876.2,258.7 877,258.8 877.8,256.3 878.6,256.3 879.5,254.9 880.3,253.3 881.1,255.1 881.9,255.8 882.7,256 883.5,253.8 884.1,253.6 884.8,254.2 885.4,251.4 886.3,244.9 887.1,243 887.7,236.8 888.3,233.3 888.9,228.9 889.5,224.8 890.1,225.6 890.8,222.4 891.4,225.2 892,223.5 892.7,224.8 893.5,229 894.4,235.7 895.2,233.8 896,232.4 896.8,230.8 897.6,231.2 898.4,226.2 899.2,226 900,226.9 900.8,226.2 901.6,224.8 902.5,227.5 903.3,228.4 904.1,228.4 904.9,229.7 905.7,229.3 906.5,230.8 907.3,225.7 908.2,222.4 908.8,222.6 909.5,225.2 910.1,224.8 910.8,220.8 911.4,219.3 912.1,218.7 912.9,216.9 913.8,212.7 914.6,213.4 915.4,216.3 916.2,220.1 916.9,228.4 917.7,229.3 918.6,234.5 919.4,235.1 920.2,234.5 921,235.7 921.8,240.4 922.6,242.4 923.4,243 924.3,243.3 925.1,239.3 925.8,235.4 926.4,231.6 927.1,230.8 927.9,228.7 928.7,230 929.5,229.6 930.3,230.9 931.1,230.2 931.9,230.8 932.6,228.9 933.2,228.9 933.8,228.4 934.7,223 935.5,216.3 936.4,212.3 937.2,206.6 937.9,203.9 938.5,200.4 939.2,194.5 939.8,194.4 940.5,191.2 941.1,192.1 941.9,194 942.7,192 943.5,193.3 944.4,194.8 945.2,195.7 946.1,192.1 946.9,189.7 947.8,174.9 948.7,167.8 949.5,158 950.2,156.3 950.8,156.1 951.5,156.7 952.1,149.7 952.8,143.5 953.4,139.8 954.3,144 955.1,144.6 955.9,141.8 956.7,137.3 957.5,135 958.4,132.1 959.2,130.1 959.9,133.3 960.5,132.1 961.2,141.8 961.8,142.1 962.4,142.4 963,141.8 963.6,143.6 964.2,150.9 964.8,155.1 965.4,152.8 966.1,149 966.7,146.6 967.3,139.4 967.9,135.8 968.5,135.7 969.1,135.3 969.7,135.1 970.3,135.9 970.9,133.9 971.5,135.1 972.1,133.3 972.7,138.2 973.6,145.4 974.5,147.8 975.1,147.3 975.7,143 976.3,137.2 976.9,135.7 977.5,133 978.2,132.1 978.8,131.4 979.4,133.9 980.3,138.2 981.2,144.2 981.8,150.3 982.4,150.1 983,152.7 983.6,158.9 984.2,160.5 984.8,157.9 985.4,154.5 986,154 986.6,149.7 987.2,146.3 987.8,144.2 988.8,147.8 989.7,152.1 990.3,154.3 990.9,153.3 991.5,154 992.1,155.1 992.7,157 993.3,161.1 994.3,170.2 995.1,164.8 996.1,153.9 996.9,154.5 997.5,157.2 998.1,157.5 998.7,159.1 999.3,156.9 999.9,157.8 1000.5,162.4 1001.1,162.5 1001.8,161.8 1002.4,160.2 1003,157.5 1003.8,151.5 1004.8,147.8 1005.4,145.4 1006,145.4 1007,139.4 1007.6,132.7 1008.4,138.2 1009.4,139.4 1010.2,141.2 1010.8,138.8 1011.4,137.5 1012.4,136.9 1013.3,140 1013.9,139.6 1014.5,142.4 1015.1,141.4 1015.7,143 1016.3,140.7 1016.9,140.6 1017.9,136.3 1018.5,135 1019.1,132.7 1019.9,134.5 1020.5,137 1021.1,138.2 1021.7,136.6 1022.3,137.5 1023.2,140 1024.1,143 1024.8,142.3 1025.4,146 1026,145.9 1026.6,147.2 1027.2,148.9 1027.8,149 1028.4,148.6 1029,150.9 1029.5,151.6 1030.2,151.8 1030.9,152.5 1031.6,155 1032.3,160.5 1032.9,163.1 1033.6,163.6 1034.3,161.7 1035,163.8 1035.7,159.9 1036.3,159.2 1037,157.7 1037.7,162 1038.4,165.9 1039.1,170.2 1039.8,171.1 1040.4,176.8 1041.1,176 1041.8,178.1 1042.5,177.4 1043.2,174.5 1043.8,173.4 1044.5,171.7 1045.2,172 1045.9,165.9 1046.6,161.8 1047.2,158.6 1047.9,150.9 1048.6,149.7 1049.3,150.2 1050,147.4 1050.7,144.1 1051.3,141.7 1052,140.7 1052.7,144 1053.4,148.1 1054.1,147.1 1054.7,142.7 1055.4,143.8 1056.1,140.7 1056.8,142.4 1057.5,145.4 1058.1,146.1 1058.8,149.5 1059.5,156.1 1060.2,160.4 1060.9,166.3 1061.6,175.4 1062.5,184.3 1063.6,169.9 1064.7,161.1 1065.4,161.8 1066,167.2 1066.7,167.6 1067.4,164.5 1068.1,166.5 1068.8,169.3 1069.5,169.3 1070.1,166.5 1071,165.1 1071.8,164.5 1072.6,165.5 1073.4,163.1 1074.5,155 1075.6,152.9 1076.5,156.3 1077.5,164.5 1078.6,167.2 1079.3,167.7 1079.9,168.6 1080.6,168.1 1081.3,170.6 1082.4,174.7 1083.4,172.7 1084.3,179.5 1085.4,185.6 1086.5,178.1 1087.4,174 1088.5,172 1089.5,164.5" fill="none" stroke="#141414" stroke-width="1.75" stroke-linejoin="round"/>
<g opacity="0.68"><polygon points="103.1,484.2 103.6,484.3 104.2,484.4 104.9,484.6 105.7,484.7 106.6,484.9 107.6,485.1 108.6,485.3 109.6,485.5 110.6,485.8 111.7,486 112.7,486.2 113.7,486.4 114.7,486.6 115.6,486.8 116.5,487 117.4,487.2 118.3,487.4 119.2,487.5 120.1,487.7 121,487.9 121.9,488.1 122.8,488.3 123.7,488.4 124.6,488.6 125.5,488.8 126.3,489 127.2,489.2 128.1,489.3 129,489.5 129.9,489.7 130.8,489.9 131.7,490 132.6,490.2 133.5,490.4 134.4,490.6 135.3,490.7 136.2,490.9 137.1,491.1 138,491.3 138.9,491.4 139.8,491.6 140.7,491.8 141.6,491.9 142.5,492.1 143.4,492.3 144.3,492.4 145.2,492.6 146.1,492.8 146.9,492.9 147.8,493.1 148.7,493.3 149.6,493.4 150.5,493.6 151.4,493.8 152.3,493.9 153.2,494.1 154.1,494.2 155,494.4 155.9,494.6 156.8,494.7 157.7,494.9 158.6,495 159.5,495.2 160.4,495.4 161.3,495.5 162.2,495.7 163.1,495.8 164,496 164.9,496.1 165.8,496.3 166.7,496.4 167.6,496.6 168.4,496.7 169.3,496.9 170.2,497 171.1,497.2 172,497.3 172.9,497.5 173.8,497.6 174.7,497.8 175.6,497.9 176.5,498.1 177.4,498.2 178.3,498.4 179.2,498.5 180.1,498.7 181,498.8 181.9,498.9 182.8,499.1 183.7,499.2 184.6,499.4 185.5,499.5 186.4,499.6 187.3,499.8 188.2,499.9 189.1,500.1 189.9,500.2 190.8,500.3 191.7,500.5 192.6,500.6 193.5,500.7 194.4,500.9 195.3,501 196.2,501.1 197.1,501.3 198,501.4 198.9,501.5 199.8,501.6 200.7,501.8 201.6,501.9 202.5,502 203.4,502.1 204.3,502.3 205.2,502.4 206.1,502.5 207,502.6 207.9,502.8 208.8,502.9 209.7,503 210.6,503.1 211.5,503.2 212.3,503.4 213.2,503.5 214.1,503.6 215,503.7 215.9,503.8 216.8,503.9 217.7,504.1 218.6,504.2 219.5,504.3 220.4,504.4 221.3,504.5 222.2,504.6 223.1,504.7 224,504.8 224.9,505 225.8,505.1 226.7,505.2 227.6,505.3 228.5,505.4 229.4,505.5 230.3,505.6 231.2,505.7 232.1,505.8 233,505.9 233.9,506 234.7,506.1 235.6,506.2 236.5,506.3 237.4,506.4 238.3,506.5 239.2,506.6 240.1,506.7 241,506.8 241.9,506.9 242.8,507 243.7,507.1 244.6,507.2 245.5,507.3 246.4,507.3 247.3,507.4 248.2,507.5 249.1,507.6 250,507.7 250.9,507.8 251.8,507.9 252.7,508 253.6,508 254.5,508.1 255.4,508.2 256.3,508.3 257.2,508.4 258,508.5 258.9,508.5 259.8,508.6 260.7,508.7 261.6,508.8 262.5,508.9 263.4,508.9 264.3,509 265.2,509.1 266.1,509.2 267,509.2 267.9,509.3 268.8,509.4 269.7,509.4 270.6,509.5 271.5,509.6 272.4,509.7 273.3,509.7 274.2,509.8 275.1,509.9 276,509.9 276.9,510 277.8,510.1 278.7,510.1 279.6,510.2 280.5,510.2 281.3,510.3 282.2,510.4 283.1,510.4 284,510.5 284.9,510.5 285.8,510.6 286.7,510.7 287.6,510.7 288.5,510.8 289.4,510.8 290.3,510.9 291.2,510.9 292.1,511 293,511 293.9,511.1 294.8,511.1 295.7,511.2 296.6,511.2 297.5,511.3 298.4,511.3 299.3,511.4 300.2,511.4 301.1,511.5 302,511.5 302.9,511.5 303.8,511.6 304.7,511.6 305.5,511.7 306.4,511.7 307.3,511.7 308.2,511.8 309.1,511.8 310,511.8 310.9,511.9 311.8,511.9 312.7,511.9 313.6,512 314.5,512 315.4,512 316.3,512.1 317.2,512.1 318.1,512.1 319,512.2 319.9,512.2 320.8,512.2 321.7,512.2 322.6,512.3 323.5,512.3 324.4,512.3 325.3,512.3 326.2,512.3 327.1,512.4 328,512.4 328.9,512.4 329.8,512.4 330.6,512.4 331.5,512.5 332.4,512.5 333.3,512.5 334.2,512.5 335.1,512.5 336,512.5 336.9,512.5 337.8,512.5 338.7,512.5 339.6,512.6 340.5,512.6 341.4,512.6 342.3,512.6 343.2,512.6 344.1,512.6 345,512.6 345.9,512.6 346.8,512.6 347.7,512.6 348.6,512.6 349.5,512.6 350.4,512.6 351.3,512.6 352.2,512.6 353.1,512.6 354,512.6 354.9,512.6 355.7,512.6 356.6,512.5 357.5,512.5 358.4,512.5 359.3,512.5 360.2,512.5 361.1,512.5 362,512.5 362.9,512.5 363.8,512.5 364.7,512.4 365.6,512.4 366.5,512.4 367.4,512.4 368.3,512.4 369.2,512.3 370.1,512.3 371,512.3 371.9,512.3 372.8,512.3 373.7,512.2 374.6,512.2 375.5,512.2 376.4,512.1 377.3,512.1 378.2,512.1 379.1,512.1 380,512 380.9,512 381.7,512 382.6,511.9 383.5,511.9 384.4,511.9 385.3,511.8 386.2,511.8 387.1,511.8 388,511.7 388.9,511.7 389.8,511.6 390.7,511.6 391.6,511.5 392.5,511.5 393.4,511.5 394.3,511.4 395.2,511.4 396.1,511.3 397,511.3 397.9,511.2 398.8,511.2 399.7,511.1 400.6,511.1 401.5,511 402.4,511 403.3,510.9 404.2,510.9 405.1,510.8 406,510.7 406.9,510.7 407.7,510.6 408.6,510.6 409.5,510.5 410.4,510.4 411.3,510.4 412.2,510.3 413.1,510.3 414,510.2 414.9,510.1 415.8,510.1 416.7,510 417.6,509.9 418.5,509.8 419.4,509.8 420.3,509.7 421.2,509.6 422.1,509.6 423,509.5 423.9,509.4 424.8,509.3 425.7,509.3 426.6,509.2 427.5,509.1 428.4,509 429.3,508.9 430.2,508.9 431.1,508.8 432,508.7 432.9,508.6 433.8,508.5 434.7,508.4 435.5,508.3 436.4,508.3 437.3,508.2 438.2,508.1 439.1,508 440,507.9 440.9,507.8 441.8,507.7 442.7,507.6 443.6,507.5 444.5,507.4 445.4,507.3 446.3,507.2 447.2,507.1 448.1,507 449,506.9 449.9,506.8 450.8,506.7 451.7,506.6 452.6,506.5 453.5,506.4 454.4,506.3 455.3,506.2 456.2,506 457.1,505.9 458,505.8 458.9,505.7 459.8,505.6 460.7,505.5 461.6,505.4 462.5,505.2 463.3,505.1 464.2,505 465.1,504.9 466,504.8 466.9,504.6 467.8,504.5 468.7,504.4 469.6,504.3 470.5,504.1 471.4,504 472.3,503.9 473.2,503.8 474.1,503.6 475,503.5 475.9,503.4 476.8,503.2 477.7,503.1 478.6,503 479.5,502.8 480.4,502.7 481.3,502.5 482.2,502.4 483.1,502.3 484,502.1 484.9,502 485.8,501.8 486.7,501.7 487.6,501.5 488.5,501.4 489.4,501.3 490.3,501.1 491.2,501 492.1,500.8 492.9,500.6 493.8,500.5 494.7,500.3 495.6,500.2 496.5,500 497.4,499.9 498.3,499.7 499.2,499.6 500.1,499.4 501,499.2 501.9,499.1 502.8,498.9 503.7,498.7 504.6,498.6 505.5,498.4 506.4,498.2 507.3,498.1 508.2,497.9 509.1,497.7 510,497.6 510.9,497.4 511.8,497.2 512.7,497 513.6,496.8 514.5,496.7 515.4,496.5 516.3,496.3 517.2,496.1 518.1,495.9 519,495.8 519.9,495.6 520.8,495.4 521.7,495.2 522.5,495 523.4,494.8 524.3,494.6 525.2,494.4 526.1,494.2 527,494.1 527.9,493.9 528.8,493.7 529.7,493.5 530.6,493.3 531.5,493.1 532.4,492.9 533.3,492.7 534.2,492.5 535.1,492.3 536,492.1 536.9,491.8 537.8,491.6 538.7,491.4 539.6,491.2 540.5,491 541.4,490.8 542.3,490.6 543.2,490.4 544.1,490.1 545,489.9 545.9,489.7 546.8,489.5 547.7,489.3 548.6,489.1 549.5,488.8 550.4,488.6 551.3,488.4 552.2,488.2 553.1,487.9 554,487.7 554.8,487.5 555.7,487.2 556.6,487 557.5,486.8 558.4,486.5 559.3,486.3 560.2,486.1 561.1,485.8 562,485.6 562.9,485.3 563.8,485.1 564.7,484.8 565.6,484.6 566.5,484.4 567.4,484.1 568.3,483.9 569.2,483.6 570.1,483.4 571,483.1 571.9,482.8 572.8,482.6 573.7,482.3 574.6,482.1 575.5,481.8 576.4,481.6 577.3,481.3 578.2,481 579.1,480.8 580,480.5 580.9,480.2 581.8,480 582.7,479.7 583.6,479.4 584.5,479.2 585.4,478.9 586.3,478.6 587.2,478.3 588.1,478.1 588.9,477.8 589.8,477.5 590.7,477.2 591.6,476.9 592.5,476.6 593.4,476.4 594.3,476.1 595.2,475.8 596.1,475.5 597,475.2 597.9,474.9 598.8,474.6 599.7,474.3 600.6,474 601.5,473.7 602.4,473.4 603.3,473.1 604.2,472.8 605.1,472.5 606,472.2 606.9,471.9 607.8,471.6 608.7,471.3 609.6,471 610.5,470.7 611.4,470.4 612.3,470 613.2,469.7 614.1,469.4 615,469.1 615.9,468.8 616.8,468.5 617.7,468.1 618.6,467.8 619.5,467.5 620.4,467.2 621.3,466.8 622.2,466.5 623.1,466.2 624,465.8 624.8,465.5 625.7,465.2 626.6,464.8 627.5,464.5 628.4,464.1 629.3,463.8 630.2,463.5 631.1,463.1 632,462.8 632.9,462.4 633.8,462.1 634.7,461.7 635.6,461.4 636.5,461 637.4,460.7 638.3,460.3 639.2,459.9 640.1,459.6 641,459.2 641.9,458.8 642.8,458.5 643.7,458.1 644.6,457.7 645.5,457.4 646.4,457 647.3,456.6 648.2,456.3 649.1,455.9 650,455.5 650.9,455.1 651.8,454.7 652.7,454.4 653.6,454 654.5,453.6 655.4,453.2 656.3,452.8 657.2,452.4 658.1,452 659,451.6 659.9,451.2 660.8,450.8 661.7,450.4 662.6,450 663.5,449.6 664.3,449.2 665.2,448.8 666.1,448.4 667,448 667.9,447.6 668.8,447.2 669.7,446.8 670.6,446.4 671.5,446 672.4,445.5 673.3,445.1 674.2,444.7 675.1,444.3 676,443.8 676.9,443.4 677.8,443 678.7,442.6 679.6,442.1 680.5,441.7 681.4,441.2 682.3,440.8 683.2,440.4 684.1,439.9 685,439.5 685.9,439 686.8,438.6 687.7,438.1 688.6,437.7 689.5,437.2 690.4,436.8 691.3,436.3 692.2,435.9 693.1,435.4 694,435 694.9,434.5 695.8,434 696.7,433.6 697.6,433.1 698.5,432.6 699.4,432.1 700.3,431.7 701.2,431.2 702.1,430.7 703,430.2 703.9,429.8 704.8,429.3 705.7,428.8 706.6,428.3 707.4,427.8 708.3,427.3 709.2,426.8 710.1,426.3 711,425.8 711.9,425.3 712.8,424.8 713.7,424.3 714.6,423.8 715.5,423.3 716.4,422.8 717.3,422.3 718.2,421.8 719.1,421.3 720,420.7 720.9,420.2 721.8,419.7 722.7,419.2 723.6,418.6 724.5,418.1 725.4,417.6 726.3,417.1 727.2,416.5 728.1,416 729,415.5 729.9,414.9 730.8,414.4 731.7,413.8 732.6,413.3 733.5,412.7 734.4,412.2 735.3,411.6 736.2,411.1 737.1,410.5 738,410 738.9,409.4 739.8,408.8 740.7,408.3 741.6,407.7 742.5,407.1 743.4,406.6 744.3,406 745.2,405.4 746.1,404.8 747,404.2 747.9,403.7 748.8,403.1 749.7,402.5 750.6,401.9 751.5,401.3 752.4,400.7 753.2,400.1 754.1,399.5 755,398.9 755.9,398.3 756.8,397.7 757.7,397.1 758.6,396.5 759.5,395.9 760.4,395.3 761.3,394.7 762.2,394 763.1,393.4 764,392.8 764.9,392.2 765.8,391.5 766.7,390.9 767.6,390.3 768.5,389.6 769.4,389 770.3,388.4 771.2,387.7 772.1,387.1 773,386.4 773.9,385.8 774.8,385.1 775.7,384.5 776.6,383.8 777.5,383.1 778.4,382.5 779.3,381.8 780.2,381.1 781.1,380.5 782,379.8 782.9,379.1 783.8,378.5 784.7,377.8 785.6,377.1 786.5,376.4 787.4,375.7 788.3,375 789.2,374.3 790.1,373.6 791,372.9 791.9,372.2 792.8,371.5 793.7,370.8 794.6,370.1 795.5,369.4 796.4,368.7 797.3,368 798.2,367.3 799.1,366.5 800,365.8 800.9,365.1 801.7,364.4 802.6,363.6 803.5,362.9 804.4,362.2 805.3,361.4 806.2,360.7 807.1,359.9 808,359.2 808.9,358.4 809.8,357.7 810.7,356.9 811.6,356.2 812.5,355.4 813.4,354.6 814.3,353.9 815.2,353.1 816.1,352.3 817,351.5 817.9,350.8 818.8,350 819.7,349.2 820.6,348.4 821.5,347.6 822.4,346.8 823.3,346 824.2,345.2 825.1,344.4 826,343.6 826.9,342.8 827.8,342 828.7,341.2 829.6,340.4 830.5,339.6 831.4,338.7 832.3,337.9 833.3,337 834.3,336 835.4,335 836.4,334.1 837.4,333.1 838.5,332.1 839.5,331.2 840.4,330.3 841.3,329.4 842.1,328.7 842.8,328 843.4,327.4 843.9,326.9 841.1,323.9 840.5,324.3 839.9,324.9 839.2,325.6 838.4,326.4 837.5,327.2 836.6,328.1 835.6,329.1 834.6,330 833.5,331 832.5,332 831.5,333 830.4,333.9 829.5,334.8 828.6,335.7 827.7,336.5 826.8,337.3 825.9,338.1 825,338.9 824.1,339.7 823.2,340.5 822.3,341.3 821.4,342.1 820.5,342.9 819.6,343.7 818.8,344.5 817.9,345.3 817,346.1 816.1,346.9 815.2,347.6 814.3,348.4 813.4,349.2 812.5,349.9 811.6,350.7 810.7,351.5 809.8,352.2 808.9,353 808.1,353.8 807.2,354.5 806.3,355.3 805.4,356 804.5,356.8 803.6,357.5 802.7,358.2 801.8,359 800.9,359.7 800,360.4 799.1,361.2 798.2,361.9 797.4,362.6 796.5,363.3 795.6,364.1 794.7,364.8 793.8,365.5 792.9,366.2 792,366.9 791.1,367.6 790.2,368.3 789.3,369 788.4,369.7 787.6,370.4 786.7,371.1 785.8,371.8 784.9,372.5 784,373.1 783.1,373.8 782.2,374.5 781.3,375.2 780.4,375.9 779.5,376.5 778.6,377.2 777.7,377.9 776.9,378.5 776,379.2 775.1,379.9 774.2,380.5 773.3,381.2 772.4,381.8 771.5,382.5 770.6,383.1 769.7,383.8 768.8,384.4 767.9,385 767,385.7 766.2,386.3 765.3,386.9 764.4,387.6 763.5,388.2 762.6,388.8 761.7,389.5 760.8,390.1 759.9,390.7 759,391.3 758.1,391.9 757.2,392.5 756.4,393.1 755.5,393.7 754.6,394.4 753.7,395 752.8,395.6 751.9,396.2 751,396.8 750.1,397.3 749.2,397.9 748.3,398.5 747.4,399.1 746.5,399.7 745.7,400.3 744.8,400.9 743.9,401.4 743,402 742.1,402.6 741.2,403.2 740.3,403.7 739.4,404.3 738.5,404.9 737.6,405.4 736.7,406 735.8,406.5 735,407.1 734.1,407.7 733.2,408.2 732.3,408.8 731.4,409.3 730.5,409.8 729.6,410.4 728.7,410.9 727.8,411.5 726.9,412 726,412.5 725.1,413.1 724.3,413.6 723.4,414.1 722.5,414.7 721.6,415.2 720.7,415.7 719.8,416.2 718.9,416.8 718,417.3 717.1,417.8 716.2,418.3 715.3,418.8 714.5,419.3 713.6,419.8 712.7,420.3 711.8,420.8 710.9,421.3 710,421.8 709.1,422.3 708.2,422.8 707.3,423.3 706.4,423.8 705.5,424.3 704.6,424.8 703.8,425.3 702.9,425.8 702,426.2 701.1,426.7 700.2,427.2 699.3,427.7 698.4,428.2 697.5,428.6 696.6,429.1 695.7,429.6 694.8,430 693.9,430.5 693.1,431 692.2,431.4 691.3,431.9 690.4,432.3 689.5,432.8 688.6,433.3 687.7,433.7 686.8,434.2 685.9,434.6 685,435.1 684.1,435.5 683.2,435.9 682.4,436.4 681.5,436.8 680.6,437.3 679.7,437.7 678.8,438.1 677.9,438.6 677,439 676.1,439.4 675.2,439.9 674.3,440.3 673.4,440.7 672.5,441.1 671.7,441.6 670.8,442 669.9,442.4 669,442.8 668.1,443.2 667.2,443.6 666.3,444 665.4,444.5 664.5,444.9 663.6,445.3 662.7,445.7 661.8,446.1 661,446.5 660.1,446.9 659.2,447.3 658.3,447.7 657.4,448.1 656.5,448.4 655.6,448.8 654.7,449.2 653.8,449.6 652.9,450 652,450.4 651.1,450.8 650.2,451.2 649.4,451.5 648.5,451.9 647.6,452.3 646.7,452.7 645.8,453 644.9,453.4 644,453.8 643.1,454.1 642.2,454.5 641.3,454.9 640.4,455.2 639.5,455.6 638.7,456 637.8,456.3 636.9,456.7 636,457 635.1,457.4 634.2,457.7 633.3,458.1 632.4,458.5 631.5,458.8 630.6,459.1 629.7,459.5 628.8,459.8 628,460.2 627.1,460.5 626.2,460.9 625.3,461.2 624.4,461.5 623.5,461.9 622.6,462.2 621.7,462.5 620.8,462.9 619.9,463.2 619,463.5 618.1,463.9 617.2,464.2 616.4,464.5 615.5,464.8 614.6,465.1 613.7,465.5 612.8,465.8 611.9,466.1 611,466.4 610.1,466.7 609.2,467 608.3,467.4 607.4,467.7 606.5,468 605.7,468.3 604.8,468.6 603.9,468.9 603,469.2 602.1,469.5 601.2,469.8 600.3,470.1 599.4,470.4 598.5,470.7 597.6,471 596.7,471.3 595.8,471.6 594.9,471.9 594.1,472.1 593.2,472.4 592.3,472.7 591.4,473 590.5,473.3 589.6,473.6 588.7,473.8 587.8,474.1 586.9,474.4 586,474.7 585.1,475 584.2,475.2 583.3,475.5 582.5,475.8 581.6,476 580.7,476.3 579.8,476.6 578.9,476.9 578,477.1 577.1,477.4 576.2,477.6 575.3,477.9 574.4,478.2 573.5,478.4 572.6,478.7 571.7,478.9 570.9,479.2 570,479.4 569.1,479.7 568.2,480 567.3,480.2 566.4,480.5 565.5,480.7 564.6,480.9 563.7,481.2 562.8,481.4 561.9,481.7 561,481.9 560.2,482.2 559.3,482.4 558.4,482.6 557.5,482.9 556.6,483.1 555.7,483.3 554.8,483.6 553.9,483.8 553,484 552.1,484.3 551.2,484.5 550.3,484.7 549.4,484.9 548.6,485.2 547.7,485.4 546.8,485.6 545.9,485.8 545,486.1 544.1,486.3 543.2,486.5 542.3,486.7 541.4,486.9 540.5,487.1 539.6,487.3 538.7,487.6 537.8,487.8 536.9,488 536.1,488.2 535.2,488.4 534.3,488.6 533.4,488.8 532.5,489 531.6,489.2 530.7,489.4 529.8,489.6 528.9,489.8 528,490 527.1,490.2 526.2,490.4 525.3,490.6 524.5,490.8 523.6,491 522.7,491.2 521.8,491.4 520.9,491.5 520,491.7 519.1,491.9 518.2,492.1 517.3,492.3 516.4,492.5 515.5,492.7 514.6,492.8 513.7,493 512.9,493.2 512,493.4 511.1,493.5 510.2,493.7 509.3,493.9 508.4,494.1 507.5,494.2 506.6,494.4 505.7,494.6 504.8,494.8 503.9,494.9 503,495.1 502.1,495.3 501.2,495.4 500.4,495.6 499.5,495.7 498.6,495.9 497.7,496.1 496.8,496.2 495.9,496.4 495,496.5 494.1,496.7 493.2,496.9 492.3,497 491.4,497.2 490.5,497.3 489.6,497.5 488.8,497.6 487.9,497.8 487,497.9 486.1,498.1 485.2,498.2 484.3,498.3 483.4,498.5 482.5,498.6 481.6,498.8 480.7,498.9 479.8,499 478.9,499.2 478,499.3 477.1,499.5 476.3,499.6 475.4,499.7 474.5,499.9 473.6,500 472.7,500.1 471.8,500.3 470.9,500.4 470,500.5 469.1,500.6 468.2,500.8 467.3,500.9 466.4,501 465.5,501.1 464.7,501.3 463.8,501.4 462.9,501.5 462,501.6 461.1,501.7 460.2,501.9 459.3,502 458.4,502.1 457.5,502.2 456.6,502.3 455.7,502.4 454.8,502.5 453.9,502.6 453,502.8 452.2,502.9 451.3,503 450.4,503.1 449.5,503.2 448.6,503.3 447.7,503.4 446.8,503.5 445.9,503.6 445,503.7 444.1,503.8 443.2,503.9 442.3,504 441.4,504.1 440.5,504.2 439.7,504.3 438.8,504.4 437.9,504.5 437,504.6 436.1,504.6 435.2,504.7 434.3,504.8 433.4,504.9 432.5,505 431.6,505.1 430.7,505.2 429.8,505.3 428.9,505.3 428,505.4 427.2,505.5 426.3,505.6 425.4,505.7 424.5,505.7 423.6,505.8 422.7,505.9 421.8,506 420.9,506 420,506.1 419.1,506.2 418.2,506.3 417.3,506.3 416.4,506.4 415.5,506.5 414.7,506.5 413.8,506.6 412.9,506.7 412,506.7 411.1,506.8 410.2,506.9 409.3,506.9 408.4,507 407.5,507 406.6,507.1 405.7,507.2 404.8,507.2 403.9,507.3 403,507.3 402.2,507.4 401.3,507.4 400.4,507.5 399.5,507.6 398.6,507.6 397.7,507.7 396.8,507.7 395.9,507.8 395,507.8 394.1,507.8 393.2,507.9 392.3,507.9 391.4,508 390.5,508 389.7,508.1 388.8,508.1 387.9,508.2 387,508.2 386.1,508.2 385.2,508.3 384.3,508.3 383.4,508.3 382.5,508.4 381.6,508.4 380.7,508.4 379.8,508.5 378.9,508.5 378,508.5 377.1,508.6 376.3,508.6 375.4,508.6 374.5,508.7 373.6,508.7 372.7,508.7 371.8,508.7 370.9,508.8 370,508.8 369.1,508.8 368.2,508.8 367.3,508.8 366.4,508.9 365.5,508.9 364.6,508.9 363.8,508.9 362.9,508.9 362,509 361.1,509 360.2,509 359.3,509 358.4,509 357.5,509 356.6,509 355.7,509 354.8,509 353.9,509 353,509.1 352.1,509.1 351.3,509.1 350.4,509.1 349.5,509.1 348.6,509.1 347.7,509.1 346.8,509.1 345.9,509.1 345,509.1 344.1,509.1 343.2,509.1 342.3,509.1 341.4,509.1 340.5,509.1 339.6,509.1 338.7,509 337.9,509 337,509 336.1,509 335.2,509 334.3,509 333.4,509 332.5,509 331.6,509 330.7,508.9 329.8,508.9 328.9,508.9 328,508.9 327.1,508.9 326.2,508.9 325.3,508.8 324.5,508.8 323.6,508.8 322.7,508.8 321.8,508.8 320.9,508.7 320,508.7 319.1,508.7 318.2,508.7 317.3,508.6 316.4,508.6 315.5,508.6 314.6,508.5 313.7,508.5 312.8,508.5 312,508.4 311.1,508.4 310.2,508.4 309.3,508.3 308.4,508.3 307.5,508.3 306.6,508.2 305.7,508.2 304.8,508.2 303.9,508.1 303,508.1 302.1,508 301.2,508 300.3,508 299.4,507.9 298.6,507.9 297.7,507.8 296.8,507.8 295.9,507.7 295,507.7 294.1,507.6 293.2,507.6 292.3,507.5 291.4,507.5 290.5,507.4 289.6,507.4 288.7,507.3 287.8,507.3 286.9,507.2 286,507.2 285.2,507.1 284.3,507.1 283.4,507 282.5,506.9 281.6,506.9 280.7,506.8 279.8,506.8 278.9,506.7 278,506.6 277.1,506.6 276.2,506.5 275.3,506.5 274.4,506.4 273.5,506.3 272.6,506.3 271.8,506.2 270.9,506.1 270,506 269.1,506 268.2,505.9 267.3,505.8 266.4,505.8 265.5,505.7 264.6,505.6 263.7,505.5 262.8,505.5 261.9,505.4 261,505.3 260.1,505.2 259.2,505.2 258.4,505.1 257.5,505 256.6,504.9 255.7,504.8 254.8,504.8 253.9,504.7 253,504.6 252.1,504.5 251.2,504.4 250.3,504.3 249.4,504.2 248.5,504.2 247.6,504.1 246.7,504 245.8,503.9 244.9,503.8 244.1,503.7 243.2,503.6 242.3,503.5 241.4,503.4 240.5,503.3 239.6,503.2 238.7,503.1 237.8,503 236.9,502.9 236,502.9 235.1,502.8 234.2,502.7 233.3,502.6 232.4,502.5 231.5,502.4 230.7,502.2 229.8,502.1 228.9,502 228,501.9 227.1,501.8 226.2,501.7 225.3,501.6 224.4,501.5 223.5,501.4 222.6,501.3 221.7,501.2 220.8,501.1 219.9,501 219,500.9 218.1,500.7 217.3,500.6 216.4,500.5 215.5,500.4 214.6,500.3 213.7,500.2 212.8,500.1 211.9,499.9 211,499.8 210.1,499.7 209.2,499.6 208.3,499.5 207.4,499.3 206.5,499.2 205.6,499.1 204.7,499 203.8,498.8 203,498.7 202.1,498.6 201.2,498.5 200.3,498.3 199.4,498.2 198.5,498.1 197.6,498 196.7,497.8 195.8,497.7 194.9,497.6 194,497.4 193.1,497.3 192.2,497.2 191.3,497 190.4,496.9 189.5,496.8 188.7,496.6 187.8,496.5 186.9,496.4 186,496.2 185.1,496.1 184.2,496 183.3,495.8 182.4,495.7 181.5,495.5 180.6,495.4 179.7,495.3 178.8,495.1 177.9,495 177,494.8 176.1,494.7 175.2,494.5 174.4,494.4 173.5,494.2 172.6,494.1 171.7,494 170.8,493.8 169.9,493.7 169,493.5 168.1,493.4 167.2,493.2 166.3,493.1 165.4,492.9 164.5,492.8 163.6,492.6 162.7,492.4 161.8,492.3 160.9,492.1 160.1,492 159.2,491.8 158.3,491.7 157.4,491.5 156.5,491.4 155.6,491.2 154.7,491 153.8,490.9 152.9,490.7 152,490.6 151.1,490.4 150.2,490.2 149.3,490.1 148.4,489.9 147.5,489.7 146.6,489.6 145.8,489.4 144.9,489.2 144,489.1 143.1,488.9 142.2,488.7 141.3,488.6 140.4,488.4 139.5,488.2 138.6,488.1 137.7,487.9 136.8,487.7 135.9,487.6 135,487.4 134.1,487.2 133.2,487 132.3,486.9 131.4,486.7 130.6,486.5 129.7,486.3 128.8,486.2 127.9,486 127,485.8 126.1,485.6 125.2,485.5 124.3,485.3 123.4,485.1 122.5,484.9 121.6,484.7 120.7,484.6 119.8,484.4 118.9,484.2 118,484 117.1,483.8 116.3,483.7 115.3,483.5 114.4,483.3 113.3,483.1 112.3,482.8 111.3,482.6 110.2,482.4 109.2,482.2 108.2,482 107.3,481.8 106.4,481.6 105.6,481.4 104.9,481.3 104.2,481.1 103.7,481" fill="#6a55ec"/>
<polygon points="852.6,321.5 836.6,325 847.7,335" fill="#6a55ec"/></g>
<g opacity="0.68"><polygon points="885.5,292.8 885.7,292.8 886,292.7 886.4,292.7 886.8,292.6 887.2,292.5 887.7,292.5 888.2,292.4 888.7,292.3 889.2,292.2 889.7,292.1 890.3,292 890.8,292 891.3,291.9 891.7,291.8 892.2,291.7 892.6,291.6 893.1,291.5 893.5,291.4 894,291.3 894.4,291.2 894.9,291.1 895.3,291 895.8,290.9 896.2,290.8 896.7,290.7 897.1,290.6 897.6,290.5 898,290.4 898.5,290.3 898.9,290.2 899.4,290.1 899.8,290 900.3,289.9 900.7,289.7 901.2,289.6 901.6,289.5 902.1,289.4 902.5,289.3 903,289.1 903.4,289 903.9,288.9 904.3,288.8 904.8,288.6 905.2,288.5 905.7,288.4 906.1,288.3 906.6,288.1 907,288 907.5,287.9 907.9,287.7 908.4,287.6 908.8,287.5 909.3,287.3 909.7,287.2 910.2,287 910.6,286.9 911.1,286.8 911.5,286.6 912,286.5 912.4,286.3 912.9,286.2 913.3,286 913.8,285.9 914.2,285.7 914.7,285.6 915.1,285.4 915.6,285.3 916,285.1 916.5,285 916.9,284.8 917.4,284.7 917.8,284.5 918.2,284.3 918.7,284.2 919.1,284 919.6,283.9 920,283.7 920.5,283.5 920.9,283.4 921.4,283.2 921.8,283 922.3,282.9 922.7,282.7 923.2,282.5 923.6,282.4 924.1,282.2 924.5,282 925,281.9 925.4,281.7 925.9,281.5 926.3,281.3 926.8,281.2 927.2,281 927.7,280.8 928.1,280.6 928.6,280.4 929,280.3 929.4,280.1 929.9,279.9 930.3,279.7 930.8,279.5 931.2,279.4 931.7,279.2 932.1,279 932.6,278.8 933,278.6 933.5,278.4 933.9,278.3 934.4,278.1 934.8,277.9 935.3,277.7 935.7,277.5 936.2,277.3 936.6,277.1 937.1,276.9 937.5,276.7 938,276.5 938.4,276.3 938.8,276.1 939.3,275.9 939.7,275.7 940.2,275.6 940.6,275.4 941.1,275.2 941.5,275 942,274.8 942.4,274.6 942.9,274.4 943.3,274.2 943.8,273.9 944.2,273.7 944.7,273.5 945.1,273.3 945.6,273.1 946,272.9 946.5,272.7 946.9,272.5 947.3,272.3 947.8,272.1 948.2,271.9 948.7,271.7 949.1,271.5 949.6,271.3 950,271 950.5,270.8 950.9,270.6 951.4,270.4 951.8,270.2 952.3,270 952.7,269.8 953.2,269.5 953.6,269.3 954.1,269.1 954.5,268.9 955,268.7 955.4,268.4 955.8,268.2 956.3,268 956.7,267.8 957.2,267.6 957.6,267.3 958.1,267.1 958.5,266.9 959,266.7 959.4,266.4 959.9,266.2 960.3,266 960.8,265.8 961.2,265.5 961.7,265.3 962.1,265.1 962.6,264.8 963,264.6 963.5,264.4 963.9,264.1 964.3,263.9 964.8,263.7 965.2,263.4 965.7,263.2 966.1,263 966.6,262.7 967,262.5 967.5,262.3 967.9,262 968.4,261.8 968.8,261.5 969.3,261.3 969.7,261.1 970.2,260.8 970.6,260.6 971.1,260.3 971.5,260.1 972,259.9 972.4,259.6 972.8,259.4 973.3,259.1 973.7,258.9 974.2,258.6 974.6,258.4 975.1,258.1 975.5,257.9 976,257.6 976.4,257.4 976.9,257.1 977.3,256.9 977.8,256.6 978.2,256.3 978.7,256.1 979.1,255.8 979.6,255.6 980,255.3 980.5,255.1 980.9,254.8 981.4,254.5 981.8,254.3 982.2,254 982.7,253.7 983.1,253.5 983.6,253.2 984,252.9 984.5,252.7 984.9,252.4 985.4,252.1 985.8,251.9 986.3,251.6 986.7,251.3 987.2,251.1 987.6,250.8 988.1,250.5 988.5,250.2 989,250 989.4,249.7 989.9,249.4 990.3,249.1 990.8,248.8 991.2,248.6 991.7,248.3 992.1,248 992.5,247.7 993,247.4 993.4,247.1 993.9,246.9 994.3,246.6 994.8,246.3 995.2,246 995.7,245.7 996.1,245.4 996.6,245.1 997,244.8 997.5,244.5 997.9,244.2 998.4,243.9 998.8,243.6 999.3,243.3 999.7,243 1000.2,242.7 1000.6,242.4 1001.1,242.1 1001.5,241.8 1002,241.5 1002.4,241.2 1002.9,240.9 1003.3,240.6 1003.8,240.3 1004.2,239.9 1004.7,239.6 1005.1,239.3 1005.5,239 1006,238.7 1006.4,238.3 1006.9,238 1007.3,237.7 1007.8,237.4 1008.2,237.1 1008.7,236.7 1009.1,236.4 1009.6,236.1 1010,235.7 1010.5,235.4 1010.9,235.1 1011.4,234.7 1011.8,234.4 1012.3,234.1 1012.7,233.7 1013.2,233.4 1013.6,233 1014.1,232.7 1014.5,232.3 1015,232 1015.4,231.6 1015.9,231.3 1016.3,230.9 1016.8,230.6 1017.2,230.2 1017.7,229.9 1018.1,229.5 1018.6,229.2 1019,228.8 1019.5,228.4 1019.9,228.1 1020.4,227.7 1020.8,227.3 1021.3,227 1021.7,226.6 1022.2,226.2 1022.6,225.8 1023.1,225.5 1023.5,225.1 1024,224.7 1024.4,224.3 1024.8,223.9 1025.3,223.5 1025.7,223.1 1026.2,222.8 1026.6,222.4 1027.1,222 1027.5,221.6 1028,221.2 1028.4,220.8 1028.9,220.4 1029.3,220 1029.8,219.6 1030.2,219.1 1030.7,218.7 1031.1,218.3 1031.6,217.9 1032,217.5 1032.5,217.1 1032.9,216.7 1033.4,216.2 1033.8,215.8 1034.3,215.4 1034.7,214.9 1035.2,214.5 1035.6,214.1 1036.1,213.6 1036.5,213.2 1037,212.8 1037.4,212.3 1037.9,211.9 1038.3,211.4 1038.8,211 1039.2,210.5 1039.7,210.1 1040.1,209.6 1040.6,209.1 1041,208.7 1041.5,208.2 1041.9,207.7 1042.4,207.3 1042.8,206.8 1043.3,206.3 1043.7,205.8 1044.2,205.4 1044.6,204.9 1045.1,204.4 1045.5,203.9 1046,203.4 1046.4,202.9 1046.9,202.4 1047.3,201.9 1047.8,201.4 1048.2,200.9 1048.7,200.4 1049.1,199.9 1049.6,199.4 1050,198.9 1050.5,198.3 1050.9,197.8 1051.4,197.3 1051.8,196.8 1052.3,196.2 1052.7,195.7 1053.2,195.2 1053.6,194.6 1054.1,194.1 1054.5,193.5 1055,193 1055.4,192.4 1055.9,191.9 1056.3,191.3 1056.8,190.7 1057.2,190.2 1057.7,189.6 1058.1,189 1058.6,188.5 1059,187.9 1059.5,187.3 1059.9,186.7 1060.4,186.1 1060.8,185.5 1061.3,184.9 1061.7,184.3 1062.2,183.7 1062.7,183 1063.2,182.2 1063.8,181.5 1064.3,180.8 1064.8,180.1 1065.3,179.4 1065.8,178.7 1066.2,178.1 1066.6,177.6 1067,177.1 1067.3,176.6 1067.5,176.3 1064.3,173.9 1064,174.3 1063.7,174.7 1063.3,175.2 1062.9,175.8 1062.5,176.4 1062,177.1 1061.6,177.8 1061,178.5 1060.5,179.2 1060,179.9 1059.5,180.6 1059,181.3 1058.5,182 1058.1,182.6 1057.6,183.2 1057.2,183.7 1056.8,184.3 1056.3,184.9 1055.9,185.5 1055.4,186 1055,186.6 1054.6,187.2 1054.1,187.7 1053.7,188.3 1053.2,188.9 1052.8,189.4 1052.4,190 1051.9,190.5 1051.5,191 1051,191.6 1050.6,192.1 1050.2,192.7 1049.7,193.2 1049.3,193.7 1048.8,194.2 1048.4,194.8 1047.9,195.3 1047.5,195.8 1047.1,196.3 1046.6,196.8 1046.2,197.3 1045.7,197.8 1045.3,198.3 1044.9,198.8 1044.4,199.3 1044,199.8 1043.5,200.3 1043.1,200.8 1042.7,201.3 1042.2,201.8 1041.8,202.2 1041.3,202.7 1040.9,203.2 1040.5,203.7 1040,204.1 1039.6,204.6 1039.1,205.1 1038.7,205.5 1038.3,206 1037.8,206.5 1037.4,206.9 1036.9,207.4 1036.5,207.8 1036.1,208.3 1035.6,208.7 1035.2,209.2 1034.7,209.6 1034.3,210 1033.8,210.5 1033.4,210.9 1033,211.3 1032.5,211.8 1032.1,212.2 1031.6,212.6 1031.2,213 1030.8,213.5 1030.3,213.9 1029.9,214.3 1029.4,214.7 1029,215.1 1028.6,215.5 1028.1,215.9 1027.7,216.4 1027.2,216.8 1026.8,217.2 1026.4,217.6 1025.9,218 1025.5,218.4 1025,218.7 1024.6,219.1 1024.2,219.5 1023.7,219.9 1023.3,220.3 1022.8,220.7 1022.4,221.1 1021.9,221.5 1021.5,221.8 1021.1,222.2 1020.6,222.6 1020.2,223 1019.7,223.3 1019.3,223.7 1018.9,224.1 1018.4,224.4 1018,224.8 1017.5,225.2 1017.1,225.5 1016.7,225.9 1016.2,226.2 1015.8,226.6 1015.3,227 1014.9,227.3 1014.4,227.7 1014,228 1013.6,228.4 1013.1,228.7 1012.7,229.1 1012.2,229.4 1011.8,229.7 1011.4,230.1 1010.9,230.4 1010.5,230.8 1010,231.1 1009.6,231.4 1009.2,231.8 1008.7,232.1 1008.3,232.4 1007.8,232.8 1007.4,233.1 1006.9,233.4 1006.5,233.7 1006.1,234.1 1005.6,234.4 1005.2,234.7 1004.7,235 1004.3,235.4 1003.9,235.7 1003.4,236 1003,236.3 1002.5,236.6 1002.1,236.9 1001.6,237.2 1001.2,237.6 1000.8,237.9 1000.3,238.2 999.9,238.5 999.4,238.8 999,239.1 998.6,239.4 998.1,239.7 997.7,240 997.2,240.3 996.8,240.6 996.3,240.9 995.9,241.2 995.5,241.5 995,241.8 994.6,242.1 994.1,242.4 993.7,242.7 993.3,242.9 992.8,243.2 992.4,243.5 991.9,243.8 991.5,244.1 991,244.4 990.6,244.7 990.2,244.9 989.7,245.2 989.3,245.5 988.8,245.8 988.4,246.1 987.9,246.3 987.5,246.6 987.1,246.9 986.6,247.2 986.2,247.4 985.7,247.7 985.3,248 984.8,248.3 984.4,248.5 984,248.8 983.5,249.1 983.1,249.3 982.6,249.6 982.2,249.9 981.8,250.1 981.3,250.4 980.9,250.7 980.4,250.9 980,251.2 979.5,251.5 979.1,251.7 978.7,252 978.2,252.2 977.8,252.5 977.3,252.7 976.9,253 976.4,253.3 976,253.5 975.6,253.8 975.1,254 974.7,254.3 974.2,254.5 973.8,254.8 973.3,255 972.9,255.3 972.5,255.5 972,255.8 971.6,256 971.1,256.3 970.7,256.5 970.2,256.8 969.8,257 969.4,257.2 968.9,257.5 968.5,257.7 968,258 967.6,258.2 967.1,258.4 966.7,258.7 966.3,258.9 965.8,259.2 965.4,259.4 964.9,259.6 964.5,259.9 964,260.1 963.6,260.3 963.2,260.6 962.7,260.8 962.3,261 961.8,261.3 961.4,261.5 960.9,261.7 960.5,262 960.1,262.2 959.6,262.4 959.2,262.7 958.7,262.9 958.3,263.1 957.8,263.3 957.4,263.6 957,263.8 956.5,264 956.1,264.2 955.6,264.5 955.2,264.7 954.7,264.9 954.3,265.1 953.9,265.3 953.4,265.6 953,265.8 952.5,266 952.1,266.2 951.6,266.4 951.2,266.6 950.8,266.9 950.3,267.1 949.9,267.3 949.4,267.5 949,267.7 948.5,267.9 948.1,268.1 947.7,268.4 947.2,268.6 946.8,268.8 946.3,269 945.9,269.2 945.4,269.4 945,269.6 944.6,269.8 944.1,270 943.7,270.2 943.2,270.4 942.8,270.6 942.3,270.8 941.9,271 941.5,271.2 941,271.4 940.6,271.6 940.1,271.8 939.7,272 939.3,272.2 938.8,272.4 938.4,272.6 937.9,272.8 937.5,273 937,273.2 936.6,273.4 936.2,273.6 935.7,273.8 935.3,274 934.8,274.2 934.4,274.4 933.9,274.6 933.5,274.8 933.1,274.9 932.6,275.1 932.2,275.3 931.7,275.5 931.3,275.7 930.8,275.9 930.4,276.1 930,276.2 929.5,276.4 929.1,276.6 928.6,276.8 928.2,277 927.7,277.2 927.3,277.3 926.9,277.5 926.4,277.7 926,277.9 925.5,278 925.1,278.2 924.6,278.4 924.2,278.6 923.8,278.7 923.3,278.9 922.9,279.1 922.4,279.2 922,279.4 921.6,279.6 921.1,279.7 920.7,279.9 920.2,280.1 919.8,280.2 919.3,280.4 918.9,280.6 918.5,280.7 918,280.9 917.6,281.1 917.1,281.2 916.7,281.4 916.2,281.5 915.8,281.7 915.4,281.8 914.9,282 914.5,282.1 914,282.3 913.6,282.4 913.2,282.6 912.7,282.7 912.3,282.9 911.8,283 911.4,283.2 910.9,283.3 910.5,283.5 910.1,283.6 909.6,283.8 909.2,283.9 908.7,284 908.3,284.2 907.9,284.3 907.4,284.5 907,284.6 906.5,284.7 906.1,284.9 905.7,285 905.2,285.1 904.8,285.2 904.3,285.4 903.9,285.5 903.5,285.6 903,285.7 902.6,285.9 902.1,286 901.7,286.1 901.2,286.2 900.8,286.4 900.4,286.5 899.9,286.6 899.5,286.7 899,286.8 898.6,286.9 898.2,287 897.7,287.1 897.3,287.3 896.8,287.4 896.4,287.5 896,287.6 895.5,287.7 895.1,287.8 894.6,287.9 894.2,288 893.8,288.1 893.3,288.2 892.9,288.3 892.4,288.3 892,288.4 891.6,288.5 891.1,288.6 890.7,288.7 890.2,288.8 889.7,288.9 889.2,289 888.7,289 888.2,289.1 887.7,289.2 887.2,289.3 886.7,289.4 886.3,289.4 885.9,289.5 885.5,289.6 885.2,289.6 884.9,289.7" fill="#6a55ec"/>
<polygon points="1072.3,168 1059.5,173.1 1072.8,180.2" fill="#6a55ec"/></g>
<circle cx="82" cy="475" r="17.7" fill="#f78a2f" fill-opacity="0.76"/>
<circle cx="859.3" cy="293.2" r="17.7" fill="#f78a2f" fill-opacity="0.76"/>
<circle cx="1077.2" cy="137.9" r="17.7" fill="#f78a2f" fill-opacity="0.76"/>
<text x="865.3" y="109.6" font-size="14.9" fill="#5a47dc" textLength="94.4" lengthAdjust="spacingAndGlyphs">The false start</text>
<line x1="969.2" y1="103.8" x2="997" y2="127.2" stroke="#4a36d8" stroke-width="1.2"/>
<polygon points="1000.5,130.3 993.3,128.9 998.4,123.5" fill="#4a36d8"/>
<line x1="23.7" x2="1090.0" y1="601.8" y2="601.8" stroke="#dcdce0" stroke-width="1.4"/>
<line x1="1096" x2="1096" y1="106.4" y2="601.6" stroke="#9b9ba8" stroke-width="1.5"/>
<g font-size="12.4" fill="#7a7a82" text-anchor="middle">
<line x1="47.3" x2="47.3" y1="601.8" y2="607.4" stroke="#dcdce0" stroke-width="1.2"/>
<text x="48.1" y="624.0" textLength="52.4" lengthAdjust="spacingAndGlyphs">2020 Sep</text>
<line x1="133.6" x2="133.6" y1="601.8" y2="607.4" stroke="#dcdce0" stroke-width="1.2"/>
<text x="134.4" y="624.0" textLength="49.6" lengthAdjust="spacingAndGlyphs">2021 Jan</text>
<line x1="218.4" x2="218.4" y1="601.8" y2="607.4" stroke="#dcdce0" stroke-width="1.2"/>
<text x="219.2" y="624.0" textLength="53.2" lengthAdjust="spacingAndGlyphs">2021 May</text>
<line x1="305.4" x2="305.4" y1="601.8" y2="607.4" stroke="#dcdce0" stroke-width="1.2"/>
<text x="306.2" y="624.0" textLength="52.4" lengthAdjust="spacingAndGlyphs">2021 Sep</text>
<line x1="391.6" x2="391.6" y1="601.8" y2="607.4" stroke="#dcdce0" stroke-width="1.2"/>
<text x="392.4" y="624.0" textLength="49.6" lengthAdjust="spacingAndGlyphs">2022 Jan</text>
<line x1="476.5" x2="476.5" y1="601.8" y2="607.4" stroke="#dcdce0" stroke-width="1.2"/>
<text x="477.3" y="624.0" textLength="53.2" lengthAdjust="spacingAndGlyphs">2022 May</text>
<line x1="563.4" x2="563.4" y1="601.8" y2="607.4" stroke="#dcdce0" stroke-width="1.2"/>
<text x="564.2" y="624.0" textLength="52.4" lengthAdjust="spacingAndGlyphs">2022 Sep</text>
<line x1="649.7" x2="649.7" y1="601.8" y2="607.4" stroke="#dcdce0" stroke-width="1.2"/>
<text x="650.5" y="624.0" textLength="49.6" lengthAdjust="spacingAndGlyphs">2023 Jan</text>
<line x1="734.6" x2="734.6" y1="601.8" y2="607.4" stroke="#dcdce0" stroke-width="1.2"/>
<text x="735.4" y="624.0" textLength="53.2" lengthAdjust="spacingAndGlyphs">2023 May</text>
<line x1="821.5" x2="821.5" y1="601.8" y2="607.4" stroke="#dcdce0" stroke-width="1.2"/>
<text x="822.3" y="624.0" textLength="52.4" lengthAdjust="spacingAndGlyphs">2023 Sep</text>
<line x1="907.8" x2="907.8" y1="601.8" y2="607.4" stroke="#dcdce0" stroke-width="1.2"/>
<text x="908.6" y="624.0" textLength="49.6" lengthAdjust="spacingAndGlyphs">2024 Jan</text>
<line x1="993.3" x2="993.3" y1="601.8" y2="607.4" stroke="#dcdce0" stroke-width="1.2"/>
<text x="994.1" y="624.0" textLength="53.2" lengthAdjust="spacingAndGlyphs">2024 May</text>
<line x1="1080.3" x2="1080.3" y1="601.8" y2="607.4" stroke="#dcdce0" stroke-width="1.2"/>
<text x="1081.1" y="624.0" textLength="52.4" lengthAdjust="spacingAndGlyphs">2024 Sep</text>
</g>
<g font-size="15" fill="#1f1f24">
<text x="1107.3" y="115.3">80K</text>
<text x="1107.3" y="169.8">60K</text>
<text x="1107.3" y="204.4">50K</text>
<text x="1107.3" y="301.2">30K</text>
<text x="1107.3" y="378.1">20K</text>
<text x="1107.3" y="509.5">10K</text>
<text x="1107.3" y="529.5">9K</text>
<text x="1107.3" y="551.8">8K</text>
<text x="1107.3" y="577.1">7K</text>
<text x="1107.3" y="606.3">6K</text>
</g>
<rect x="1096" y="123.1" width="47.3" height="25.8" fill="#d62d7c"/>
<text x="1100.3" y="141.3" font-size="15" fill="#fff" textLength="37.7" lengthAdjust="spacingAndGlyphs">69.5K</text>
<rect x="1096" y="160.6" width="35.2" height="25.4" fill="#4a35e0"/>
<text x="1100.3" y="178.6" font-size="15" fill="#fff" textLength="25.2" lengthAdjust="spacingAndGlyphs">57K</text>
<rect x="1096" y="222" width="47.3" height="25.5" fill="#8dd2e6"/>
<text x="1100.3" y="240.1" font-size="15" fill="#fff" textLength="36.2" lengthAdjust="spacingAndGlyphs">41.3K</text>
<rect x="1096" y="294.3" width="47.3" height="24.4" fill="#36b0da"/>
<text x="1100.3" y="311.8" font-size="15" fill="#fff" textLength="37.2" lengthAdjust="spacingAndGlyphs">28.3K</text>
<text transform="translate(1141.5,326.8) rotate(90)" font-size="15" fill="#1f1f24" textLength="54" lengthAdjust="spacingAndGlyphs">Price ($)</text>
<text x="587.6" y="35.6" font-size="22.5" font-weight="bold" fill="#1a1a1f" text-anchor="middle" textLength="313.6" lengthAdjust="spacingAndGlyphs">BTC: Annual Quantile Trends</text>
<line x1="44" x2="62" y1="61" y2="61" stroke="#141414" stroke-width="1.6"/>
<text x="66.7" y="65.9" font-size="14.4" fill="#26262b" textLength="105.6" lengthAdjust="spacingAndGlyphs" >BTC Price [USD]</text>
<circle cx="198" cy="60" r="7.2" fill="#a6dbeb"/>
<text x="211.5" y="65.9" font-size="14.4" fill="#26262b" textLength="104.5" lengthAdjust="spacingAndGlyphs" >High Bull Market</text>
<circle cx="340.5" cy="60" r="7.2" fill="#7b788b"/>
<text x="353.8" y="65.9" font-size="14.4" fill="#8c8c94" textLength="111.8" lengthAdjust="spacingAndGlyphs" text-decoration="line-through">High Bear Market</text>
<line x1="353" x2="466.4" y1="61.2" y2="61.2" stroke="#8c8c94" stroke-width="1"/>
<line x1="480.3" x2="498.2" y1="61" y2="61" stroke="#d2568f" stroke-width="1.5"/>
<text x="502.6" y="65.9" font-size="14.4" fill="#26262b" textLength="122.4" lengthAdjust="spacingAndGlyphs" >High 90% Quantile</text>
<line x1="639.2" x2="655.9" y1="61" y2="61" stroke="#ee9ec4" stroke-width="1.5"/>
<text x="661" y="65.9" font-size="14.4" fill="#26262b" textLength="130.3" lengthAdjust="spacingAndGlyphs" >Upper 75% Quantile</text>
<line x1="806.7" x2="823.8" y1="61" y2="61" stroke="#5646d8" stroke-width="1.9" stroke-dasharray="5 4"/>
<text x="829" y="65.9" font-size="14.4" fill="#26262b" textLength="138.4" lengthAdjust="spacingAndGlyphs" >Median 50% Quantile</text>
<line x1="982.8" x2="999.5" y1="61" y2="61" stroke="#a8deeb" stroke-width="1.5"/>
<text x="1004.6" y="65.9" font-size="14.4" fill="#26262b" textLength="129.4" lengthAdjust="spacingAndGlyphs" >Lower 25% Quantile</text>
<line x1="44" x2="62" y1="80.5" y2="80.5" stroke="#62bfe3" stroke-width="1.5"/>
<text x="66.7" y="85.0" font-size="14.4" fill="#26262b" textLength="115.1" lengthAdjust="spacingAndGlyphs" >Low 10% Quantile</text>
<g transform="translate(407,632.6)"><polygon points="3.4,0 11.2,0 14.6,4.2 7.3,12 0,4.2" fill="#3fa9f2"/><polygon points="3.4,0 11.2,0 14.6,4.2 0,4.2" fill="#86cffc"/><polygon points="4.9,4.2 9.7,4.2 7.3,12" fill="#2a8fe2"/><polygon points="5.4,0 9.2,0 9.7,4.2 4.9,4.2" fill="#b3e1ff"/></g>
<g transform="translate(423.8,632)"><path d="M1.2,5.2 Q1,3.4 3.2,3.3 Q5.6,3.2 6,5.4 L7.6,11 L5.6,14 L1.8,14 Z" fill="#f8c33a"/><path d="M14,5.2 Q14.2,3.4 12,3.3 Q9.6,3.2 9.2,5.4 L7.6,11 L9.6,14 L13.4,14 Z" fill="#f8c33a"/><path d="M5.9,8.2 L7.6,11 L9.3,8.2 L8.4,7.4 L7.6,9 L6.8,7.4 Z" fill="#e2a320"/><g stroke="#8e9aa6" stroke-width="0.8"><line x1="3.6" y1="2.2" x2="3.2" y2="0.4"/><line x1="6.2" y1="1.8" x2="6.1" y2="0.1"/><line x1="9" y1="1.8" x2="9.1" y2="0.1"/><line x1="11.6" y1="2.2" x2="12" y2="0.4"/></g></g>
<text x="444" y="643.2" font-size="12.4" fill="#7a7a82" textLength="264.2" lengthAdjust="spacingAndGlyphs">Daily on-chain analysis: <tspan text-decoration="underline">https://x.com/AxelAdlerJr</tspan></text>
<text x="1004.6" y="645" font-size="10.4" fill="#7a7a82" textLength="147.4" lengthAdjust="spacingAndGlyphs">© CryptoQuant. All rights reserved</text>
</g>
</svg>
</body></html>
